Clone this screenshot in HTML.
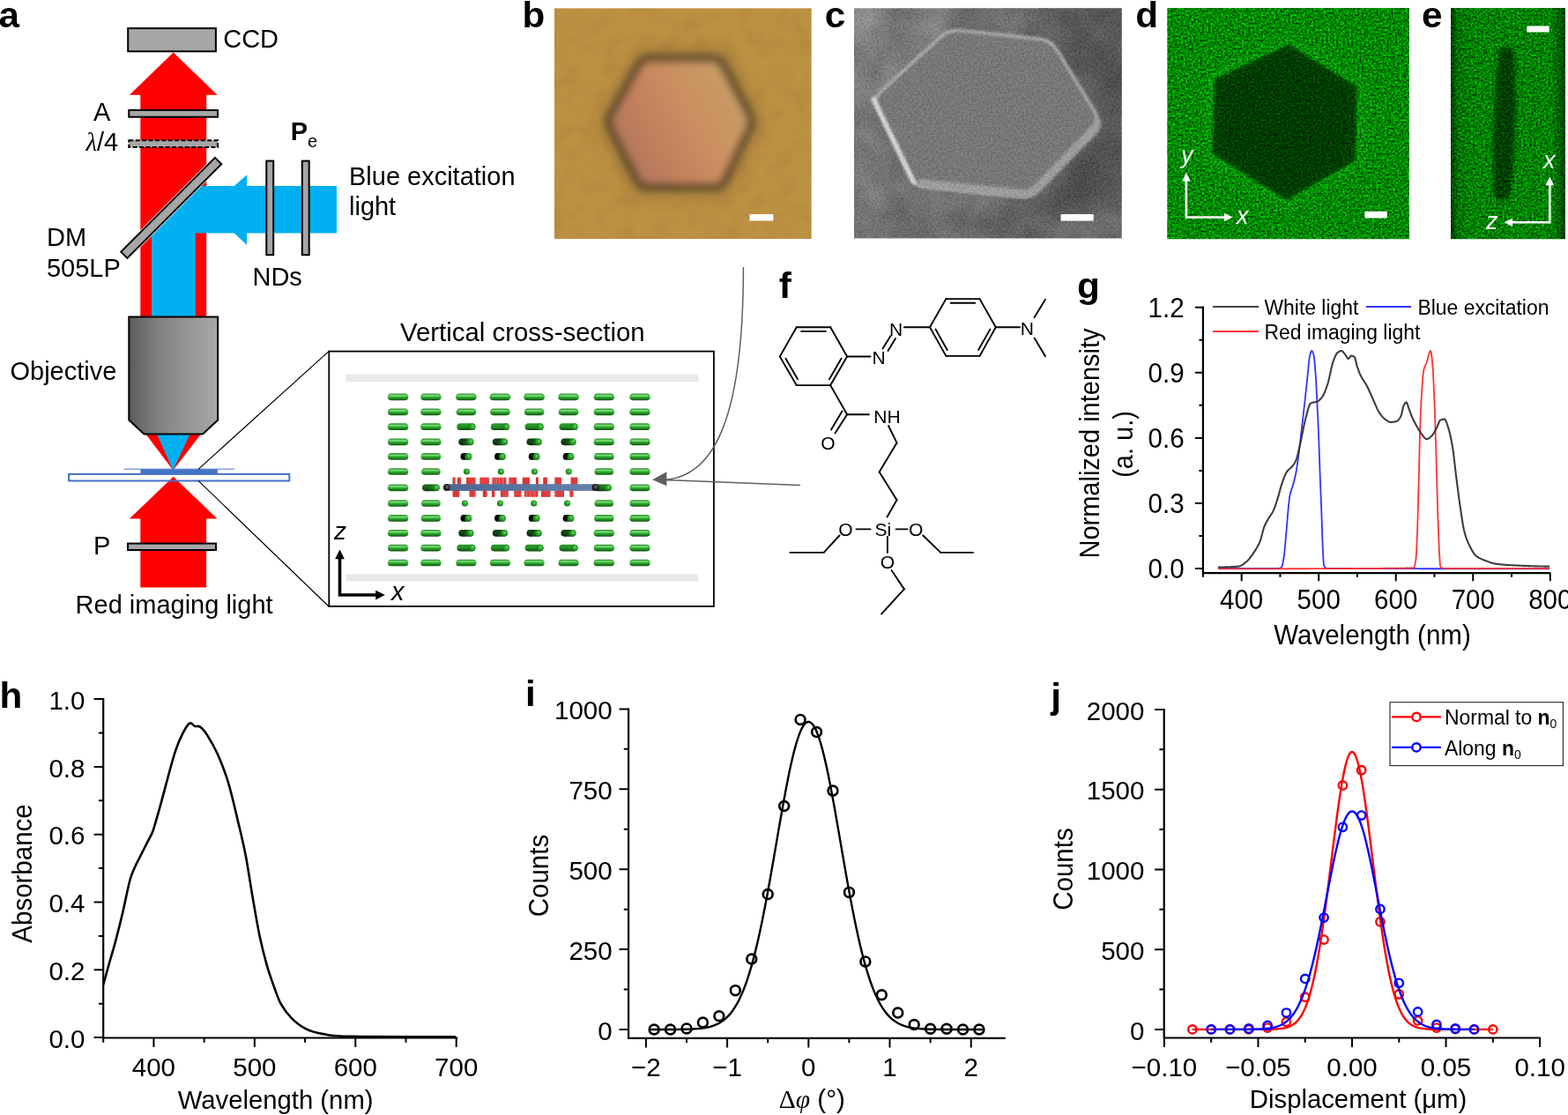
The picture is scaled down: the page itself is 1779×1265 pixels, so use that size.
<!DOCTYPE html>
<html><head><meta charset="utf-8"><title>Figure</title>
<style>html,body{margin:0;padding:0;background:#fff;overflow:hidden}svg{display:block}</style>
</head><body>
<svg width="1779" height="1265" viewBox="0 0 1779 1265">
<rect x="0" y="0" width="1779" height="1265" fill="#fff"/>
<defs>
<clipPath id="clipb"><rect x="628.8" y="9.2" width="292" height="261.9"/></clipPath>
<clipPath id="clipc"><rect x="969" y="9.2" width="303.8" height="261.4"/></clipPath>
<clipPath id="clipd"><rect x="1324.3" y="9" width="274.6" height="262.2"/></clipPath>
<clipPath id="clipe"><rect x="1646" y="9" width="129.9" height="262.2"/></clipPath>
<filter id="blur3" x="-20%" y="-20%" width="140%" height="140%"><feGaussianBlur stdDeviation="4.2"/></filter>
<filter id="blur5" x="-30%" y="-30%" width="160%" height="160%"><feGaussianBlur stdDeviation="7"/></filter>
<filter id="blur10" x="-50%" y="-50%" width="200%" height="200%"><feGaussianBlur stdDeviation="10"/></filter>
<filter id="blur15" x="-30%" y="-30%" width="160%" height="160%"><feGaussianBlur stdDeviation="1.4"/></filter>
<filter id="blur2" x="-30%" y="-30%" width="160%" height="160%"><feGaussianBlur stdDeviation="2"/></filter>
<filter id="blur1" x="-30%" y="-30%" width="160%" height="160%"><feGaussianBlur stdDeviation="1"/></filter>
<filter id="bnoise" color-interpolation-filters="sRGB" filterUnits="userSpaceOnUse" x="628" y="9" width="294" height="263">
<feTurbulence type="fractalNoise" baseFrequency="0.05" numOctaves="2" seed="5"/>
<feColorMatrix type="matrix" values="0 0 0 0 0  0 0 0 0 0  0 0 0 0 0  0.9 0 0 0 -0.38"/>
</filter>
<filter id="gnoise" color-interpolation-filters="sRGB" filterUnits="userSpaceOnUse" x="1324" y="9" width="452" height="263">
<feTurbulence type="fractalNoise" baseFrequency="0.42" numOctaves="2" seed="11"/>
<feGaussianBlur stdDeviation="0.6"/>
<feColorMatrix type="matrix" values="0 0 0 0 0  1.15 0 0 0 -0.045  0 0 0 0 0  0 0 0 0 1"/>
</filter>
<filter id="cgrain" color-interpolation-filters="sRGB" filterUnits="userSpaceOnUse" x="969" y="9" width="304" height="262">
<feTurbulence type="fractalNoise" baseFrequency="0.45" numOctaves="2" seed="9"/>
<feColorMatrix type="matrix" values="1.4 0 0 0 -0.2  1.4 0 0 0 -0.2  1.4 0 0 0 -0.2  0 0 0 0 0.16"/>
</filter>
<filter id="clow" color-interpolation-filters="sRGB" filterUnits="userSpaceOnUse" x="969" y="9" width="304" height="262">
<feTurbulence type="fractalNoise" baseFrequency="0.025" numOctaves="3" seed="2"/>
<feColorMatrix type="matrix" values="1 0 0 0 -0.1  1 0 0 0 -0.1  1 0 0 0 -0.1  0 0 0 0 0.22"/>
</filter>
<linearGradient id="bhex" x1="0" x2="1" y1="0.75" y2="0.25">
<stop offset="0" stop-color="#a8745a"/><stop offset="0.3" stop-color="#c27f5c"/><stop offset="0.6" stop-color="#cc8f60"/><stop offset="1" stop-color="#c3a068"/>
</linearGradient>
<radialGradient id="cbg" cx="0.9" cy="0.05" r="0.6">
<stop offset="0" stop-color="#505050"/><stop offset="1" stop-color="#505050" stop-opacity="0"/>
</radialGradient>
<linearGradient id="cbg2" x1="0" x2="1" y1="0.2" y2="0.8">
<stop offset="0" stop-color="#848484"/><stop offset="0.5" stop-color="#6c6c6c"/><stop offset="1" stop-color="#5e5e5e"/>
</linearGradient>
<linearGradient id="eedge" x1="0" x2="1" y1="0" y2="0">
<stop offset="0" stop-color="#000" stop-opacity="0.6"/><stop offset="0.06" stop-color="#000" stop-opacity="0.15"/><stop offset="0.2" stop-color="#000" stop-opacity="0.05"/><stop offset="0.88" stop-color="#000" stop-opacity="0.05"/><stop offset="0.95" stop-color="#000" stop-opacity="0.3"/><stop offset="1" stop-color="#000" stop-opacity="0.55"/>
</linearGradient>
</defs>
<g clip-path="url(#clipb)">
<rect x="628.8" y="9.2" width="292" height="261.9" fill="#bd9142"/>
<rect x="628.8" y="9.2" width="292" height="261.9" filter="url(#bnoise)" opacity="0.12"/>
<path d="M725.1,73.5 Q729.0,66.5 737.0,66.5 L808.0,66.5 Q816.0,66.5 819.8,73.6 L850.2,130.4 Q854.0,137.5 850.6,144.7 L821.8,204.8 Q818.4,212.0 810.4,212.0 L734.7,212.0 Q726.7,212.0 723.1,204.9 L692.5,144.6 Q688.9,137.5 692.8,130.5 Z" fill="none" stroke="#8a6a3a" stroke-width="26" filter="url(#blur5)" opacity="0.45"/>
<path d="M725.1,73.5 Q729.0,66.5 737.0,66.5 L808.0,66.5 Q816.0,66.5 819.8,73.6 L850.2,130.4 Q854.0,137.5 850.6,144.7 L821.8,204.8 Q818.4,212.0 810.4,212.0 L734.7,212.0 Q726.7,212.0 723.1,204.9 L692.5,144.6 Q688.9,137.5 692.8,130.5 Z" fill="url(#bhex)" stroke="#5e4a2c" stroke-width="8.5" filter="url(#blur3)"/>
</g>
<rect x="850.5" y="243" width="26.8" height="7.5" fill="#fff"/>
<g clip-path="url(#clipc)">
<rect x="969" y="9.2" width="303.8" height="261.4" fill="url(#cbg2)"/>
<rect x="969" y="9.2" width="303.8" height="261.4" fill="url(#cbg)" opacity="0.8"/>
<rect x="969" y="9.2" width="303.8" height="261.4" filter="url(#clow)"/>
<polygon points="1222,50 1262,135 1180,228 1150,236 1200,250 1275,215 1275,40" fill="#333" filter="url(#blur10)" opacity="0.55"/>
<path d="M1066.6,42.4 Q1077.0,33.0 1090.9,34.5 L1178.5,43.9 Q1192.4,45.4 1199.7,57.3 L1241.5,125.3 Q1248.8,137.2 1239.4,147.6 L1179.4,213.6 Q1170.0,224.0 1156.1,222.7 L1051.4,212.6 Q1037.5,211.3 1031.5,198.7 L996.0,124.6 Q990.0,112.0 1000.4,102.6 Z" fill="#767676" stroke="#bcbcbc" stroke-width="3" filter="url(#blur15)"/>
<path d="M1249,136 Q1250,146 1243,153 L1178,219 Q1171,226 1160,225 L1040,212 L1043,203 L1162,215 Q1168,215 1172,211 L1238,143 Q1242,139 1241,134 Z" fill="#a2a2a2" filter="url(#blur15)"/>
<path d="M991,112 L1037,207" stroke="#e8e8e8" stroke-width="5" fill="none" stroke-linecap="round" filter="url(#blur15)"/>
<rect x="969" y="9.2" width="303.8" height="261.4" filter="url(#cgrain)"/>
</g>
<rect x="1203.6" y="243" width="37.1" height="7.6" fill="#fff"/>
<g clip-path="url(#clipd)">
<rect x="1324.3" y="9" width="274.6" height="262.2" filter="url(#gnoise)"/>
<polygon points="1462.3,50.5 1539.5,98.2 1538,182.3 1459.5,227.2 1375.4,173.9 1378.2,89.8" fill="none" stroke="#5f5" stroke-width="16" opacity="0.12" filter="url(#blur5)"/>
<polygon points="1462.3,50.5 1539.5,98.2 1538,182.3 1459.5,227.2 1375.4,173.9 1378.2,89.8" fill="#000" opacity="0.56" filter="url(#blur15)"/>
</g>
<rect x="1548.4" y="239.8" width="25.3" height="7.6" fill="#fff"/>
<path d="M1345.9,247.5 L1345.9,203 M1344.6,246.5 L1391,246.5" stroke="#fff" stroke-width="2.6" fill="none"/>
<polygon points="1345.9,195.8 1341.1,205.5 1350.7,205.5" fill="#fff"/>
<polygon points="1398.6,246.5 1388.9,241.7 1388.9,251.3" fill="#fff"/>
<text x="1340" y="185" font-family="Liberation Sans, Arial, sans-serif" font-style="italic" font-size="27" fill="#fff">y</text>
<text x="1403" y="254" font-family="Liberation Sans, Arial, sans-serif" font-style="italic" font-size="27" fill="#fff">x</text>
<g clip-path="url(#clipe)">
<rect x="1646" y="9" width="129.9" height="262.2" filter="url(#gnoise)"/>
<rect x="1646" y="9" width="129.9" height="262.2" fill="url(#eedge)"/>
<path d="M1701,56 Q1710,50 1718,57 L1720,120 L1717,190 L1713,224 Q1703,230 1695,224 L1694,160 L1697,95 Z" fill="#000" opacity="0.5" filter="url(#blur2)"/>
</g>
<rect x="1732.2" y="29.5" width="25.5" height="7" fill="#fff"/>
<path d="M1758.3,253.5 L1758.3,208 M1759.6,252.2 L1714,252.2" stroke="#fff" stroke-width="2.6" fill="none"/>
<polygon points="1758.3,200.6 1753.5,210.3 1763.1,210.3" fill="#fff"/>
<polygon points="1706.4,252.2 1716.1,247.4 1716.1,257" fill="#fff"/>
<text x="1751" y="190.7" font-family="Liberation Sans, Arial, sans-serif" font-style="italic" font-size="27" fill="#fff">x</text>
<text x="1686" y="259.5" font-family="Liberation Sans, Arial, sans-serif" font-style="italic" font-size="27" fill="#fff">z</text>
<defs>
<linearGradient id="rodg" x1="0" x2="0" y1="0" y2="1">
<stop offset="0" stop-color="#2c8f2c"/><stop offset="0.3" stop-color="#5ccc5c"/><stop offset="0.55" stop-color="#2faa2f"/><stop offset="0.85" stop-color="#187318"/><stop offset="1" stop-color="#0c4a0c"/>
</linearGradient>
<linearGradient id="rodb" x1="0" x2="0" y1="0" y2="1">
<stop offset="0" stop-color="#2a9a2a"/><stop offset="0.5" stop-color="#25922a"/><stop offset="0.85" stop-color="#146014"/><stop offset="1" stop-color="#0a3a0a"/>
</linearGradient>
<linearGradient id="rodd" x1="0" x2="1" y1="0" y2="0.35">
<stop offset="0" stop-color="#000"/><stop offset="0.5" stop-color="#000" stop-opacity="0.85"/><stop offset="0.8" stop-color="#000" stop-opacity="0"/>
</linearGradient>
<radialGradient id="rodc" cx="0.6" cy="0.4" r="0.65">
<stop offset="0" stop-color="#6ad46a"/><stop offset="0.45" stop-color="#2ca52c"/><stop offset="1" stop-color="#127012"/>
</radialGradient>
<linearGradient id="bluerod" x1="0" x2="1" y1="0" y2="0">
<stop offset="0" stop-color="#4d6590"/><stop offset="0.5" stop-color="#5a74a0"/><stop offset="1" stop-color="#6682ac"/>
</linearGradient>
<radialGradient id="endc" cx="0.55" cy="0.4" r="0.6">
<stop offset="0" stop-color="#777"/><stop offset="0.5" stop-color="#2a2a2a"/><stop offset="1" stop-color="#111"/>
</radialGradient>
<linearGradient id="redtick" x1="0" x2="1" y1="0" y2="0">
<stop offset="0" stop-color="#c01c1c"/><stop offset="0.5" stop-color="#f24a4a"/><stop offset="1" stop-color="#c82424"/>
</linearGradient>
</defs>
<rect x="373.3" y="398.6" width="436.6" height="289.3" fill="#fff" stroke="#000" stroke-width="1.8"/>
<rect x="392.6" y="424.7" width="399.8" height="8.3" fill="#e8e8e8"/>
<rect x="392.6" y="651.4" width="399.8" height="8.3" fill="#e8e8e8"/>
<rect x="439.90" y="446.45" width="23.40" height="7.70" rx="3.85" fill="url(#rodg)"/><rect x="442.40" y="448.35" width="18.40" height="1.3" rx="0.65" fill="#8ee08e" opacity="0.7"/>
<rect x="439.90" y="463.45" width="23.40" height="7.70" rx="3.85" fill="url(#rodg)"/><rect x="442.40" y="465.35" width="18.40" height="1.3" rx="0.65" fill="#8ee08e" opacity="0.7"/>
<rect x="439.90" y="480.35" width="23.40" height="7.70" rx="3.85" fill="url(#rodg)"/><rect x="442.40" y="482.25" width="18.40" height="1.3" rx="0.65" fill="#8ee08e" opacity="0.7"/>
<rect x="439.90" y="497.45" width="23.40" height="7.70" rx="3.85" fill="url(#rodg)"/><rect x="442.40" y="499.35" width="18.40" height="1.3" rx="0.65" fill="#8ee08e" opacity="0.7"/>
<rect x="439.90" y="514.05" width="23.40" height="7.70" rx="3.85" fill="url(#rodg)"/><rect x="442.40" y="515.95" width="18.40" height="1.3" rx="0.65" fill="#8ee08e" opacity="0.7"/>
<rect x="439.90" y="531.15" width="23.40" height="7.70" rx="3.85" fill="url(#rodg)"/><rect x="442.40" y="533.05" width="18.40" height="1.3" rx="0.65" fill="#8ee08e" opacity="0.7"/>
<rect x="439.90" y="549.45" width="23.40" height="7.70" rx="3.85" fill="url(#rodg)"/><rect x="442.40" y="551.35" width="18.40" height="1.3" rx="0.65" fill="#8ee08e" opacity="0.7"/>
<rect x="439.90" y="567.15" width="23.40" height="7.70" rx="3.85" fill="url(#rodg)"/><rect x="442.40" y="569.05" width="18.40" height="1.3" rx="0.65" fill="#8ee08e" opacity="0.7"/>
<rect x="439.90" y="584.05" width="23.40" height="7.70" rx="3.85" fill="url(#rodg)"/><rect x="442.40" y="585.95" width="18.40" height="1.3" rx="0.65" fill="#8ee08e" opacity="0.7"/>
<rect x="439.90" y="600.95" width="23.40" height="7.70" rx="3.85" fill="url(#rodg)"/><rect x="442.40" y="602.85" width="18.40" height="1.3" rx="0.65" fill="#8ee08e" opacity="0.7"/>
<rect x="439.90" y="617.75" width="23.40" height="7.70" rx="3.85" fill="url(#rodg)"/><rect x="442.40" y="619.65" width="18.40" height="1.3" rx="0.65" fill="#8ee08e" opacity="0.7"/>
<rect x="439.90" y="634.65" width="23.40" height="7.70" rx="3.85" fill="url(#rodg)"/><rect x="442.40" y="636.55" width="18.40" height="1.3" rx="0.65" fill="#8ee08e" opacity="0.7"/>
<rect x="477.20" y="446.45" width="23.40" height="7.70" rx="3.85" fill="url(#rodg)"/><rect x="479.70" y="448.35" width="18.40" height="1.3" rx="0.65" fill="#8ee08e" opacity="0.7"/>
<rect x="477.20" y="463.45" width="23.40" height="7.70" rx="3.85" fill="url(#rodg)"/><rect x="479.70" y="465.35" width="18.40" height="1.3" rx="0.65" fill="#8ee08e" opacity="0.7"/>
<rect x="477.20" y="480.35" width="23.40" height="7.70" rx="3.85" fill="url(#rodg)"/><rect x="479.70" y="482.25" width="18.40" height="1.3" rx="0.65" fill="#8ee08e" opacity="0.7"/>
<rect x="477.20" y="497.45" width="23.40" height="7.70" rx="3.85" fill="url(#rodg)"/><rect x="479.70" y="499.35" width="18.40" height="1.3" rx="0.65" fill="#8ee08e" opacity="0.7"/>
<rect x="477.50" y="514.05" width="22.80" height="7.70" rx="3.85" fill="url(#rodg)"/><rect x="480.00" y="515.95" width="17.80" height="1.3" rx="0.65" fill="#8ee08e" opacity="0.7"/>
<rect x="478.00" y="531.15" width="21.80" height="7.70" rx="3.85" fill="url(#rodg)"/><rect x="480.50" y="533.05" width="16.80" height="1.3" rx="0.65" fill="#8ee08e" opacity="0.7"/>
<rect x="479.05" y="549.45" width="19.70" height="7.70" rx="3.85" fill="url(#rodb)"/><rect x="479.05" y="549.45" width="19.70" height="7.70" rx="3.85" fill="url(#rodd)" opacity="0.35"/><circle cx="494.90" cy="553.30" r="3.85" fill="url(#rodc)"/>
<rect x="478.00" y="567.15" width="21.80" height="7.70" rx="3.85" fill="url(#rodg)"/><rect x="480.50" y="569.05" width="16.80" height="1.3" rx="0.65" fill="#8ee08e" opacity="0.7"/>
<rect x="477.70" y="584.05" width="22.40" height="7.70" rx="3.85" fill="url(#rodg)"/><rect x="480.20" y="585.95" width="17.40" height="1.3" rx="0.65" fill="#8ee08e" opacity="0.7"/>
<rect x="477.20" y="600.95" width="23.40" height="7.70" rx="3.85" fill="url(#rodg)"/><rect x="479.70" y="602.85" width="18.40" height="1.3" rx="0.65" fill="#8ee08e" opacity="0.7"/>
<rect x="477.20" y="617.75" width="23.40" height="7.70" rx="3.85" fill="url(#rodg)"/><rect x="479.70" y="619.65" width="18.40" height="1.3" rx="0.65" fill="#8ee08e" opacity="0.7"/>
<rect x="477.20" y="634.65" width="23.40" height="7.70" rx="3.85" fill="url(#rodg)"/><rect x="479.70" y="636.55" width="18.40" height="1.3" rx="0.65" fill="#8ee08e" opacity="0.7"/>
<rect x="517.10" y="446.45" width="23.60" height="7.70" rx="3.85" fill="url(#rodg)"/><rect x="519.60" y="448.35" width="18.60" height="1.3" rx="0.65" fill="#8ee08e" opacity="0.7"/>
<rect x="517.60" y="463.45" width="22.60" height="7.70" rx="3.85" fill="url(#rodg)"/><rect x="520.10" y="465.35" width="17.60" height="1.3" rx="0.65" fill="#8ee08e" opacity="0.7"/>
<rect x="518.35" y="480.35" width="21.10" height="7.70" rx="3.85" fill="url(#rodb)"/><circle cx="535.60" cy="484.20" r="3.85" fill="url(#rodc)"/>
<rect x="520.35" y="497.45" width="17.10" height="7.70" rx="3.85" fill="url(#rodb)"/><rect x="520.35" y="497.45" width="17.10" height="7.70" rx="3.85" fill="url(#rodd)" opacity="0.60"/><circle cx="533.60" cy="501.30" r="3.85" fill="url(#rodc)"/>
<rect x="522.60" y="514.05" width="12.60" height="7.70" rx="3.85" fill="url(#rodb)"/><rect x="522.60" y="514.05" width="12.60" height="7.70" rx="3.85" fill="url(#rodd)" opacity="1.00"/><circle cx="531.35" cy="517.90" r="3.85" fill="url(#rodc)"/>
<circle cx="529.50" cy="535.00" r="3.6" fill="url(#rodc)"/>
<circle cx="527.50" cy="571.00" r="3.6" fill="url(#rodc)"/>
<rect x="522.60" y="584.05" width="12.60" height="7.70" rx="3.85" fill="url(#rodb)"/><rect x="522.60" y="584.05" width="12.60" height="7.70" rx="3.85" fill="url(#rodd)" opacity="1.00"/><circle cx="531.35" cy="587.90" r="3.85" fill="url(#rodc)"/>
<rect x="520.35" y="600.95" width="17.10" height="7.70" rx="3.85" fill="url(#rodb)"/><rect x="520.35" y="600.95" width="17.10" height="7.70" rx="3.85" fill="url(#rodd)" opacity="0.60"/><circle cx="533.60" cy="604.80" r="3.85" fill="url(#rodc)"/>
<rect x="518.35" y="617.75" width="21.10" height="7.70" rx="3.85" fill="url(#rodb)"/><circle cx="535.60" cy="621.60" r="3.85" fill="url(#rodc)"/>
<rect x="517.30" y="634.65" width="23.20" height="7.70" rx="3.85" fill="url(#rodg)"/><rect x="519.80" y="636.55" width="18.20" height="1.3" rx="0.65" fill="#8ee08e" opacity="0.7"/>
<rect x="555.60" y="446.45" width="23.60" height="7.70" rx="3.85" fill="url(#rodg)"/><rect x="558.10" y="448.35" width="18.60" height="1.3" rx="0.65" fill="#8ee08e" opacity="0.7"/>
<rect x="556.10" y="463.45" width="22.60" height="7.70" rx="3.85" fill="url(#rodg)"/><rect x="558.60" y="465.35" width="17.60" height="1.3" rx="0.65" fill="#8ee08e" opacity="0.7"/>
<rect x="556.85" y="480.35" width="21.10" height="7.70" rx="3.85" fill="url(#rodb)"/><circle cx="574.10" cy="484.20" r="3.85" fill="url(#rodc)"/>
<rect x="558.85" y="497.45" width="17.10" height="7.70" rx="3.85" fill="url(#rodb)"/><rect x="558.85" y="497.45" width="17.10" height="7.70" rx="3.85" fill="url(#rodd)" opacity="0.60"/><circle cx="572.10" cy="501.30" r="3.85" fill="url(#rodc)"/>
<rect x="561.10" y="514.05" width="12.60" height="7.70" rx="3.85" fill="url(#rodb)"/><rect x="561.10" y="514.05" width="12.60" height="7.70" rx="3.85" fill="url(#rodd)" opacity="1.00"/><circle cx="569.85" cy="517.90" r="3.85" fill="url(#rodc)"/>
<circle cx="568.30" cy="535.00" r="3.6" fill="url(#rodc)"/>
<circle cx="567.50" cy="571.00" r="3.6" fill="url(#rodc)"/>
<rect x="561.10" y="584.05" width="12.60" height="7.70" rx="3.85" fill="url(#rodb)"/><rect x="561.10" y="584.05" width="12.60" height="7.70" rx="3.85" fill="url(#rodd)" opacity="1.00"/><circle cx="569.85" cy="587.90" r="3.85" fill="url(#rodc)"/>
<rect x="558.85" y="600.95" width="17.10" height="7.70" rx="3.85" fill="url(#rodb)"/><rect x="558.85" y="600.95" width="17.10" height="7.70" rx="3.85" fill="url(#rodd)" opacity="0.60"/><circle cx="572.10" cy="604.80" r="3.85" fill="url(#rodc)"/>
<rect x="556.85" y="617.75" width="21.10" height="7.70" rx="3.85" fill="url(#rodb)"/><circle cx="574.10" cy="621.60" r="3.85" fill="url(#rodc)"/>
<rect x="555.80" y="634.65" width="23.20" height="7.70" rx="3.85" fill="url(#rodg)"/><rect x="558.30" y="636.55" width="18.20" height="1.3" rx="0.65" fill="#8ee08e" opacity="0.7"/>
<rect x="594.30" y="446.45" width="23.60" height="7.70" rx="3.85" fill="url(#rodg)"/><rect x="596.80" y="448.35" width="18.60" height="1.3" rx="0.65" fill="#8ee08e" opacity="0.7"/>
<rect x="594.80" y="463.45" width="22.60" height="7.70" rx="3.85" fill="url(#rodg)"/><rect x="597.30" y="465.35" width="17.60" height="1.3" rx="0.65" fill="#8ee08e" opacity="0.7"/>
<rect x="595.55" y="480.35" width="21.10" height="7.70" rx="3.85" fill="url(#rodb)"/><circle cx="612.80" cy="484.20" r="3.85" fill="url(#rodc)"/>
<rect x="597.55" y="497.45" width="17.10" height="7.70" rx="3.85" fill="url(#rodb)"/><rect x="597.55" y="497.45" width="17.10" height="7.70" rx="3.85" fill="url(#rodd)" opacity="0.60"/><circle cx="610.80" cy="501.30" r="3.85" fill="url(#rodc)"/>
<rect x="599.80" y="514.05" width="12.60" height="7.70" rx="3.85" fill="url(#rodb)"/><rect x="599.80" y="514.05" width="12.60" height="7.70" rx="3.85" fill="url(#rodd)" opacity="1.00"/><circle cx="608.55" cy="517.90" r="3.85" fill="url(#rodc)"/>
<circle cx="606.50" cy="535.00" r="3.6" fill="url(#rodc)"/>
<circle cx="605.80" cy="571.00" r="3.6" fill="url(#rodc)"/>
<rect x="599.80" y="584.05" width="12.60" height="7.70" rx="3.85" fill="url(#rodb)"/><rect x="599.80" y="584.05" width="12.60" height="7.70" rx="3.85" fill="url(#rodd)" opacity="1.00"/><circle cx="608.55" cy="587.90" r="3.85" fill="url(#rodc)"/>
<rect x="597.55" y="600.95" width="17.10" height="7.70" rx="3.85" fill="url(#rodb)"/><rect x="597.55" y="600.95" width="17.10" height="7.70" rx="3.85" fill="url(#rodd)" opacity="0.60"/><circle cx="610.80" cy="604.80" r="3.85" fill="url(#rodc)"/>
<rect x="595.55" y="617.75" width="21.10" height="7.70" rx="3.85" fill="url(#rodb)"/><circle cx="612.80" cy="621.60" r="3.85" fill="url(#rodc)"/>
<rect x="594.50" y="634.65" width="23.20" height="7.70" rx="3.85" fill="url(#rodg)"/><rect x="597.00" y="636.55" width="18.20" height="1.3" rx="0.65" fill="#8ee08e" opacity="0.7"/>
<rect x="633.20" y="446.45" width="23.60" height="7.70" rx="3.85" fill="url(#rodg)"/><rect x="635.70" y="448.35" width="18.60" height="1.3" rx="0.65" fill="#8ee08e" opacity="0.7"/>
<rect x="633.70" y="463.45" width="22.60" height="7.70" rx="3.85" fill="url(#rodg)"/><rect x="636.20" y="465.35" width="17.60" height="1.3" rx="0.65" fill="#8ee08e" opacity="0.7"/>
<rect x="634.45" y="480.35" width="21.10" height="7.70" rx="3.85" fill="url(#rodb)"/><circle cx="651.70" cy="484.20" r="3.85" fill="url(#rodc)"/>
<rect x="636.45" y="497.45" width="17.10" height="7.70" rx="3.85" fill="url(#rodb)"/><rect x="636.45" y="497.45" width="17.10" height="7.70" rx="3.85" fill="url(#rodd)" opacity="0.60"/><circle cx="649.70" cy="501.30" r="3.85" fill="url(#rodc)"/>
<rect x="638.70" y="514.05" width="12.60" height="7.70" rx="3.85" fill="url(#rodb)"/><rect x="638.70" y="514.05" width="12.60" height="7.70" rx="3.85" fill="url(#rodd)" opacity="1.00"/><circle cx="647.45" cy="517.90" r="3.85" fill="url(#rodc)"/>
<circle cx="645.30" cy="535.00" r="3.6" fill="url(#rodc)"/>
<circle cx="643.60" cy="571.00" r="3.6" fill="url(#rodc)"/>
<rect x="638.70" y="584.05" width="12.60" height="7.70" rx="3.85" fill="url(#rodb)"/><rect x="638.70" y="584.05" width="12.60" height="7.70" rx="3.85" fill="url(#rodd)" opacity="1.00"/><circle cx="647.45" cy="587.90" r="3.85" fill="url(#rodc)"/>
<rect x="636.45" y="600.95" width="17.10" height="7.70" rx="3.85" fill="url(#rodb)"/><rect x="636.45" y="600.95" width="17.10" height="7.70" rx="3.85" fill="url(#rodd)" opacity="0.60"/><circle cx="649.70" cy="604.80" r="3.85" fill="url(#rodc)"/>
<rect x="634.45" y="617.75" width="21.10" height="7.70" rx="3.85" fill="url(#rodb)"/><circle cx="651.70" cy="621.60" r="3.85" fill="url(#rodc)"/>
<rect x="633.40" y="634.65" width="23.20" height="7.70" rx="3.85" fill="url(#rodg)"/><rect x="635.90" y="636.55" width="18.20" height="1.3" rx="0.65" fill="#8ee08e" opacity="0.7"/>
<rect x="673.60" y="446.45" width="23.40" height="7.70" rx="3.85" fill="url(#rodg)"/><rect x="676.10" y="448.35" width="18.40" height="1.3" rx="0.65" fill="#8ee08e" opacity="0.7"/>
<rect x="673.60" y="463.45" width="23.40" height="7.70" rx="3.85" fill="url(#rodg)"/><rect x="676.10" y="465.35" width="18.40" height="1.3" rx="0.65" fill="#8ee08e" opacity="0.7"/>
<rect x="673.60" y="480.35" width="23.40" height="7.70" rx="3.85" fill="url(#rodg)"/><rect x="676.10" y="482.25" width="18.40" height="1.3" rx="0.65" fill="#8ee08e" opacity="0.7"/>
<rect x="673.60" y="497.45" width="23.40" height="7.70" rx="3.85" fill="url(#rodg)"/><rect x="676.10" y="499.35" width="18.40" height="1.3" rx="0.65" fill="#8ee08e" opacity="0.7"/>
<rect x="673.90" y="514.05" width="22.80" height="7.70" rx="3.85" fill="url(#rodg)"/><rect x="676.40" y="515.95" width="17.80" height="1.3" rx="0.65" fill="#8ee08e" opacity="0.7"/>
<rect x="674.40" y="531.15" width="21.80" height="7.70" rx="3.85" fill="url(#rodg)"/><rect x="676.90" y="533.05" width="16.80" height="1.3" rx="0.65" fill="#8ee08e" opacity="0.7"/>
<rect x="674.25" y="549.45" width="19.50" height="7.70" rx="3.85" fill="url(#rodb)"/><rect x="674.25" y="549.45" width="19.50" height="7.70" rx="3.85" fill="url(#rodd)" opacity="0.30"/><circle cx="689.90" cy="553.30" r="3.85" fill="url(#rodc)"/>
<rect x="674.40" y="567.15" width="21.80" height="7.70" rx="3.85" fill="url(#rodg)"/><rect x="676.90" y="569.05" width="16.80" height="1.3" rx="0.65" fill="#8ee08e" opacity="0.7"/>
<rect x="674.10" y="584.05" width="22.40" height="7.70" rx="3.85" fill="url(#rodg)"/><rect x="676.60" y="585.95" width="17.40" height="1.3" rx="0.65" fill="#8ee08e" opacity="0.7"/>
<rect x="673.60" y="600.95" width="23.40" height="7.70" rx="3.85" fill="url(#rodg)"/><rect x="676.10" y="602.85" width="18.40" height="1.3" rx="0.65" fill="#8ee08e" opacity="0.7"/>
<rect x="673.60" y="617.75" width="23.40" height="7.70" rx="3.85" fill="url(#rodg)"/><rect x="676.10" y="619.65" width="18.40" height="1.3" rx="0.65" fill="#8ee08e" opacity="0.7"/>
<rect x="673.60" y="634.65" width="23.40" height="7.70" rx="3.85" fill="url(#rodg)"/><rect x="676.10" y="636.55" width="18.40" height="1.3" rx="0.65" fill="#8ee08e" opacity="0.7"/>
<rect x="714.30" y="446.45" width="23.40" height="7.70" rx="3.85" fill="url(#rodg)"/><rect x="716.80" y="448.35" width="18.40" height="1.3" rx="0.65" fill="#8ee08e" opacity="0.7"/>
<rect x="714.30" y="463.45" width="23.40" height="7.70" rx="3.85" fill="url(#rodg)"/><rect x="716.80" y="465.35" width="18.40" height="1.3" rx="0.65" fill="#8ee08e" opacity="0.7"/>
<rect x="714.30" y="480.35" width="23.40" height="7.70" rx="3.85" fill="url(#rodg)"/><rect x="716.80" y="482.25" width="18.40" height="1.3" rx="0.65" fill="#8ee08e" opacity="0.7"/>
<rect x="714.30" y="497.45" width="23.40" height="7.70" rx="3.85" fill="url(#rodg)"/><rect x="716.80" y="499.35" width="18.40" height="1.3" rx="0.65" fill="#8ee08e" opacity="0.7"/>
<rect x="714.30" y="514.05" width="23.40" height="7.70" rx="3.85" fill="url(#rodg)"/><rect x="716.80" y="515.95" width="18.40" height="1.3" rx="0.65" fill="#8ee08e" opacity="0.7"/>
<rect x="714.30" y="531.15" width="23.40" height="7.70" rx="3.85" fill="url(#rodg)"/><rect x="716.80" y="533.05" width="18.40" height="1.3" rx="0.65" fill="#8ee08e" opacity="0.7"/>
<rect x="714.30" y="549.45" width="23.40" height="7.70" rx="3.85" fill="url(#rodg)"/><rect x="716.80" y="551.35" width="18.40" height="1.3" rx="0.65" fill="#8ee08e" opacity="0.7"/>
<rect x="714.30" y="567.15" width="23.40" height="7.70" rx="3.85" fill="url(#rodg)"/><rect x="716.80" y="569.05" width="18.40" height="1.3" rx="0.65" fill="#8ee08e" opacity="0.7"/>
<rect x="714.30" y="584.05" width="23.40" height="7.70" rx="3.85" fill="url(#rodg)"/><rect x="716.80" y="585.95" width="18.40" height="1.3" rx="0.65" fill="#8ee08e" opacity="0.7"/>
<rect x="714.30" y="600.95" width="23.40" height="7.70" rx="3.85" fill="url(#rodg)"/><rect x="716.80" y="602.85" width="18.40" height="1.3" rx="0.65" fill="#8ee08e" opacity="0.7"/>
<rect x="714.30" y="617.75" width="23.40" height="7.70" rx="3.85" fill="url(#rodg)"/><rect x="716.80" y="619.65" width="18.40" height="1.3" rx="0.65" fill="#8ee08e" opacity="0.7"/>
<rect x="714.30" y="634.65" width="23.40" height="7.70" rx="3.85" fill="url(#rodg)"/><rect x="716.80" y="636.55" width="18.40" height="1.3" rx="0.65" fill="#8ee08e" opacity="0.7"/>
<rect x="513.6" y="541.5" width="2.4" height="8.5" rx="1" fill="url(#redtick)"/>
<rect x="514.2" y="541.5" width="2.4" height="8.5" rx="1" fill="url(#redtick)"/>
<rect x="518.9" y="541.5" width="2.4" height="8.5" rx="1" fill="url(#redtick)"/>
<rect x="520.6" y="541.5" width="2.4" height="8.5" rx="1" fill="url(#redtick)"/>
<rect x="529.0" y="541.5" width="2.4" height="8.5" rx="1" fill="url(#redtick)"/>
<rect x="531.0" y="541.5" width="2.4" height="8.5" rx="1" fill="url(#redtick)"/>
<rect x="533.1" y="541.5" width="2.4" height="8.5" rx="1" fill="url(#redtick)"/>
<rect x="535.1" y="541.5" width="2.4" height="8.5" rx="1" fill="url(#redtick)"/>
<rect x="537.2" y="541.5" width="2.4" height="8.5" rx="1" fill="url(#redtick)"/>
<rect x="544.3" y="541.5" width="2.4" height="8.5" rx="1" fill="url(#redtick)"/>
<rect x="546.3" y="541.5" width="2.4" height="8.5" rx="1" fill="url(#redtick)"/>
<rect x="548.4" y="541.5" width="2.4" height="8.5" rx="1" fill="url(#redtick)"/>
<rect x="550.4" y="541.5" width="2.4" height="8.5" rx="1" fill="url(#redtick)"/>
<rect x="552.5" y="541.5" width="2.4" height="8.5" rx="1" fill="url(#redtick)"/>
<rect x="558.5" y="541.5" width="2.4" height="8.5" rx="1" fill="url(#redtick)"/>
<rect x="561.2" y="541.5" width="2.4" height="8.5" rx="1" fill="url(#redtick)"/>
<rect x="563.9" y="541.5" width="2.4" height="8.5" rx="1" fill="url(#redtick)"/>
<rect x="566.6" y="541.5" width="2.4" height="8.5" rx="1" fill="url(#redtick)"/>
<rect x="569.3" y="541.5" width="2.4" height="8.5" rx="1" fill="url(#redtick)"/>
<rect x="572.0" y="541.5" width="2.4" height="8.5" rx="1" fill="url(#redtick)"/>
<rect x="577.4" y="541.5" width="2.4" height="8.5" rx="1" fill="url(#redtick)"/>
<rect x="579.5" y="541.5" width="2.4" height="8.5" rx="1" fill="url(#redtick)"/>
<rect x="581.7" y="541.5" width="2.4" height="8.5" rx="1" fill="url(#redtick)"/>
<rect x="583.8" y="541.5" width="2.4" height="8.5" rx="1" fill="url(#redtick)"/>
<rect x="592.7" y="541.5" width="2.4" height="8.5" rx="1" fill="url(#redtick)"/>
<rect x="594.7" y="541.5" width="2.4" height="8.5" rx="1" fill="url(#redtick)"/>
<rect x="596.6" y="541.5" width="2.4" height="8.5" rx="1" fill="url(#redtick)"/>
<rect x="598.6" y="541.5" width="2.4" height="8.5" rx="1" fill="url(#redtick)"/>
<rect x="608.0" y="541.5" width="2.4" height="8.5" rx="1" fill="url(#redtick)"/>
<rect x="608.6" y="541.5" width="2.4" height="8.5" rx="1" fill="url(#redtick)"/>
<rect x="616.3" y="541.5" width="2.4" height="8.5" rx="1" fill="url(#redtick)"/>
<rect x="617.4" y="541.5" width="2.4" height="8.5" rx="1" fill="url(#redtick)"/>
<rect x="618.6" y="541.5" width="2.4" height="8.5" rx="1" fill="url(#redtick)"/>
<rect x="629.3" y="541.5" width="2.4" height="8.5" rx="1" fill="url(#redtick)"/>
<rect x="631.1" y="541.5" width="2.4" height="8.5" rx="1" fill="url(#redtick)"/>
<rect x="632.8" y="541.5" width="2.4" height="8.5" rx="1" fill="url(#redtick)"/>
<rect x="634.6" y="541.5" width="2.4" height="8.5" rx="1" fill="url(#redtick)"/>
<rect x="647.6" y="541.5" width="2.4" height="8.5" rx="1" fill="url(#redtick)"/>
<rect x="649.4" y="541.5" width="2.4" height="8.5" rx="1" fill="url(#redtick)"/>
<rect x="651.1" y="541.5" width="2.4" height="8.5" rx="1" fill="url(#redtick)"/>
<rect x="652.9" y="541.5" width="2.4" height="8.5" rx="1" fill="url(#redtick)"/>
<rect x="513.6" y="556.0" width="2.4" height="8.0" rx="1" fill="url(#redtick)"/>
<rect x="515.4" y="556.0" width="2.4" height="8.0" rx="1" fill="url(#redtick)"/>
<rect x="517.1" y="556.0" width="2.4" height="8.0" rx="1" fill="url(#redtick)"/>
<rect x="518.9" y="556.0" width="2.4" height="8.0" rx="1" fill="url(#redtick)"/>
<rect x="532.5" y="556.0" width="2.4" height="8.0" rx="1" fill="url(#redtick)"/>
<rect x="534.9" y="556.0" width="2.4" height="8.0" rx="1" fill="url(#redtick)"/>
<rect x="537.2" y="556.0" width="2.4" height="8.0" rx="1" fill="url(#redtick)"/>
<rect x="547.8" y="556.0" width="2.4" height="8.0" rx="1" fill="url(#redtick)"/>
<rect x="549.0" y="556.0" width="2.4" height="8.0" rx="1" fill="url(#redtick)"/>
<rect x="550.2" y="556.0" width="2.4" height="8.0" rx="1" fill="url(#redtick)"/>
<rect x="557.9" y="556.0" width="2.4" height="8.0" rx="1" fill="url(#redtick)"/>
<rect x="559.0" y="556.0" width="2.4" height="8.0" rx="1" fill="url(#redtick)"/>
<rect x="567.9" y="556.0" width="2.4" height="8.0" rx="1" fill="url(#redtick)"/>
<rect x="570.1" y="556.0" width="2.4" height="8.0" rx="1" fill="url(#redtick)"/>
<rect x="572.2" y="556.0" width="2.4" height="8.0" rx="1" fill="url(#redtick)"/>
<rect x="574.4" y="556.0" width="2.4" height="8.0" rx="1" fill="url(#redtick)"/>
<rect x="583.3" y="556.0" width="2.4" height="8.0" rx="1" fill="url(#redtick)"/>
<rect x="585.2" y="556.0" width="2.4" height="8.0" rx="1" fill="url(#redtick)"/>
<rect x="587.2" y="556.0" width="2.4" height="8.0" rx="1" fill="url(#redtick)"/>
<rect x="589.1" y="556.0" width="2.4" height="8.0" rx="1" fill="url(#redtick)"/>
<rect x="595.0" y="556.0" width="2.4" height="8.0" rx="1" fill="url(#redtick)"/>
<rect x="597.6" y="556.0" width="2.4" height="8.0" rx="1" fill="url(#redtick)"/>
<rect x="600.2" y="556.0" width="2.4" height="8.0" rx="1" fill="url(#redtick)"/>
<rect x="602.8" y="556.0" width="2.4" height="8.0" rx="1" fill="url(#redtick)"/>
<rect x="605.4" y="556.0" width="2.4" height="8.0" rx="1" fill="url(#redtick)"/>
<rect x="608.0" y="556.0" width="2.4" height="8.0" rx="1" fill="url(#redtick)"/>
<rect x="614.0" y="556.0" width="2.4" height="8.0" rx="1" fill="url(#redtick)"/>
<rect x="616.0" y="556.0" width="2.4" height="8.0" rx="1" fill="url(#redtick)"/>
<rect x="618.1" y="556.0" width="2.4" height="8.0" rx="1" fill="url(#redtick)"/>
<rect x="620.1" y="556.0" width="2.4" height="8.0" rx="1" fill="url(#redtick)"/>
<rect x="622.2" y="556.0" width="2.4" height="8.0" rx="1" fill="url(#redtick)"/>
<rect x="629.3" y="556.0" width="2.4" height="8.0" rx="1" fill="url(#redtick)"/>
<rect x="631.4" y="556.0" width="2.4" height="8.0" rx="1" fill="url(#redtick)"/>
<rect x="633.4" y="556.0" width="2.4" height="8.0" rx="1" fill="url(#redtick)"/>
<rect x="635.5" y="556.0" width="2.4" height="8.0" rx="1" fill="url(#redtick)"/>
<rect x="637.6" y="556.0" width="2.4" height="8.0" rx="1" fill="url(#redtick)"/>
<rect x="646.4" y="556.0" width="2.4" height="8.0" rx="1" fill="url(#redtick)"/>
<rect x="648.1" y="556.0" width="2.4" height="8.0" rx="1" fill="url(#redtick)"/>
<rect x="505" y="549.2" width="172" height="7.7" fill="url(#bluerod)"/>
<circle cx="506.8" cy="553" r="3.9" fill="url(#endc)"/>
<circle cx="675.6" cy="553" r="4.1" fill="url(#endc)"/>
<path d="M385.5,676.7 L385.5,632 M383.7,675 L427,675" stroke="#000" stroke-width="3.6" fill="none"/>
<polygon points="385.5,623.6 380.1,634.2 390.9,634.2" fill="#000"/>
<polygon points="436.8,675 426.2,669.8 426.2,680.4" fill="#000"/>
<text x="379" y="612.4" font-family="Liberation Sans, Arial, sans-serif" font-style="italic" font-size="28">z</text>
<text x="444" y="680.9" font-family="Liberation Sans, Arial, sans-serif" font-style="italic" font-size="29">x</text>
<text x="454" y="387.3" font-family="Liberation Sans, Arial, sans-serif" font-size="29.4">Vertical cross-section</text>
<path d="M843.4,302.9 C843.5,470 812,540 755,544.2" stroke="#5f5f5f" stroke-width="1.5" fill="none"/>
<line x1="908" y1="550.6" x2="752" y2="544.4" stroke="#5f5f5f" stroke-width="1.5"/>
<polygon points="740.2,544.2 756.4,535.3 756.4,551.3" fill="#5f5f5f"/>
<defs>
<linearGradient id="objg" x1="0" x2="1" y1="0" y2="0">
<stop offset="0" stop-color="#5c5c5c"/><stop offset="0.35" stop-color="#838383"/><stop offset="1" stop-color="#a8a8a8"/>
</linearGradient>
</defs>
<polygon fill="#ff0000" points="159.3,362 159.3,107.7 146.9,107.7 196.7,59.6 246.6,107.7 234.2,107.7 234.2,362"/>
<polygon fill="#00b0f0" points="219,211.1 265.7,211.1 280.2,198.3 280.2,211.1 382,211.1 382,264.4 280.2,264.4 280.2,277.9 265.7,264.4 221.8,264.4 221.8,362 171.9,362 171.9,258.2"/>
<polygon fill="#ff0000" points="165.5,492.6 228,492.6 196.4,533.5"/>
<polygon fill="#00b0f0" points="178,492.6 215.5,492.6 196.4,533.5"/>
<g transform="translate(194.2,235.95) rotate(-45)"><rect x="-75.5" y="-5.1" width="151" height="10.2" fill="#a6a6a6" stroke="#fff" stroke-width="3.4"/><rect x="-75.5" y="-5.1" width="151" height="10.2" fill="#a6a6a6" stroke="#000" stroke-width="2"/></g>
<rect x="145.2" y="32.1" width="99.7" height="26.2" fill="#a6a6a6" stroke="#000" stroke-width="2"/>
<rect x="146.3" y="125" width="100.7" height="7.7" fill="#a6a6a6" stroke="#000" stroke-width="2"/>
<rect x="146.3" y="159.2" width="100.7" height="7.7" fill="#a6a6a6" stroke="#000" stroke-width="2" stroke-dasharray="5,2.4"/>
<rect x="302.3" y="182.6" width="7.9" height="106.6" fill="#a6a6a6" stroke="#000" stroke-width="2"/>
<rect x="342.8" y="182.6" width="7.9" height="106.6" fill="#a6a6a6" stroke="#000" stroke-width="2"/>
<path d="M146.3,359.4 L247.2,359.4 L247.2,476.6 L230,492.6 L163.5,492.6 L146.3,476.6 Z" fill="url(#objg)" stroke="#000" stroke-width="2"/>
<line x1="140.5" y1="532.2" x2="265.6" y2="532.2" stroke="#4472c4" stroke-width="1"/>
<rect x="159.5" y="532.4" width="87.3" height="5" fill="#4472c4"/>
<rect x="78.1" y="537.9" width="250.2" height="7.6" fill="#fff"/>
<polygon fill="#ff0000" points="159.3,666.6 159.3,588.4 146.9,588.4 196.7,540.7 246.5,588.4 234.1,588.4 234.1,666.6"/>
<rect x="78.1" y="537.9" width="250.2" height="7.6" fill="none" stroke="#4472c4" stroke-width="2"/>
<rect x="145" y="616.6" width="100" height="7.4" fill="#a6a6a6" stroke="#000" stroke-width="2"/>
<line x1="225" y1="532.4" x2="373" y2="398.6" stroke="#000" stroke-width="1.2"/>
<line x1="225" y1="545.4" x2="373" y2="688" stroke="#000" stroke-width="1.2"/>
<text transform="translate(253.2,53.5) scale(1,1.035)" font-family="Liberation Sans, Arial, sans-serif" font-size="29">CCD</text>
<text transform="translate(106,136.7) scale(1,1.035)" font-family="Liberation Sans, Arial, sans-serif" font-size="29">A</text>
<text transform="translate(97.5,171) scale(1,1.035)" font-family="Liberation Sans, Arial, sans-serif" font-size="29"><tspan font-family="Liberation Serif, serif" font-style="italic">λ</tspan>/4</text>
<text transform="translate(329.8,158.8) scale(1,1.035)" font-family="Liberation Sans, Arial, sans-serif" font-size="29" font-weight="bold">P</text>
<text transform="translate(349,167.4) scale(1,1.035)" font-family="Liberation Sans, Arial, sans-serif" font-size="20">e</text>
<text transform="translate(396,209.5) scale(1,1.035)" font-family="Liberation Sans, Arial, sans-serif" font-size="29">Blue excitation</text>
<text transform="translate(396,244.2) scale(1,1.035)" font-family="Liberation Sans, Arial, sans-serif" font-size="29">light</text>
<text transform="translate(53,278.6) scale(1,1.035)" font-family="Liberation Sans, Arial, sans-serif" font-size="29">DM</text>
<text transform="translate(53,313.7) scale(1,1.035)" font-family="Liberation Sans, Arial, sans-serif" font-size="29">505LP</text>
<text transform="translate(286.5,324.3) scale(1,1.035)" font-family="Liberation Sans, Arial, sans-serif" font-size="29">NDs</text>
<text transform="translate(11.5,431) scale(1,1.035)" font-family="Liberation Sans, Arial, sans-serif" font-size="29">Objective</text>
<text transform="translate(106,628.8) scale(1,1.035)" font-family="Liberation Sans, Arial, sans-serif" font-size="29">P</text>
<text transform="translate(85.6,695.8) scale(1,1.035)" font-family="Liberation Sans, Arial, sans-serif" font-size="29">Red imaging light</text>
<line x1="903.7" y1="371.3" x2="942.2" y2="371.3" stroke="#000" stroke-width="1.9" fill="none" stroke-linecap="round" stroke-linejoin="round"/>
<line x1="942.2" y1="371.3" x2="961.1" y2="404.5" stroke="#000" stroke-width="1.9" fill="none" stroke-linecap="round" stroke-linejoin="round"/>
<line x1="961.1" y1="404.5" x2="942.2" y2="437.1" stroke="#000" stroke-width="1.9" fill="none" stroke-linecap="round" stroke-linejoin="round"/>
<line x1="942.2" y1="437.1" x2="903.7" y2="437.1" stroke="#000" stroke-width="1.9" fill="none" stroke-linecap="round" stroke-linejoin="round"/>
<line x1="903.7" y1="437.1" x2="884.8" y2="404.5" stroke="#000" stroke-width="1.9" fill="none" stroke-linecap="round" stroke-linejoin="round"/>
<line x1="884.8" y1="404.5" x2="903.7" y2="371.3" stroke="#000" stroke-width="1.9" fill="none" stroke-linecap="round" stroke-linejoin="round"/>
<line x1="909.1" y1="375.9" x2="936.8" y2="375.9" stroke="#000" stroke-width="1.9" fill="none" stroke-linecap="round" stroke-linejoin="round"/>
<line x1="954.5" y1="406.8" x2="940.9" y2="430.2" stroke="#000" stroke-width="1.9" fill="none" stroke-linecap="round" stroke-linejoin="round"/>
<line x1="905.0" y1="430.2" x2="891.4" y2="406.8" stroke="#000" stroke-width="1.9" fill="none" stroke-linecap="round" stroke-linejoin="round"/>
<line x1="1073.3" y1="339.1" x2="1111.5" y2="339.1" stroke="#000" stroke-width="1.9" fill="none" stroke-linecap="round" stroke-linejoin="round"/>
<line x1="1111.5" y1="339.1" x2="1129.8" y2="371.3" stroke="#000" stroke-width="1.9" fill="none" stroke-linecap="round" stroke-linejoin="round"/>
<line x1="1129.8" y1="371.3" x2="1111.5" y2="403.9" stroke="#000" stroke-width="1.9" fill="none" stroke-linecap="round" stroke-linejoin="round"/>
<line x1="1111.5" y1="403.9" x2="1073.3" y2="403.9" stroke="#000" stroke-width="1.9" fill="none" stroke-linecap="round" stroke-linejoin="round"/>
<line x1="1073.3" y1="403.9" x2="1055.0" y2="371.3" stroke="#000" stroke-width="1.9" fill="none" stroke-linecap="round" stroke-linejoin="round"/>
<line x1="1055.0" y1="371.3" x2="1073.3" y2="339.1" stroke="#000" stroke-width="1.9" fill="none" stroke-linecap="round" stroke-linejoin="round"/>
<line x1="1078.6" y1="343.7" x2="1106.2" y2="343.7" stroke="#000" stroke-width="1.9" fill="none" stroke-linecap="round" stroke-linejoin="round"/>
<line x1="1123.3" y1="373.6" x2="1110.1" y2="397.0" stroke="#000" stroke-width="1.9" fill="none" stroke-linecap="round" stroke-linejoin="round"/>
<line x1="1074.7" y1="397.0" x2="1061.5" y2="373.6" stroke="#000" stroke-width="1.9" fill="none" stroke-linecap="round" stroke-linejoin="round"/>
<line x1="961.1" y1="404.5" x2="987.5" y2="404.5" stroke="#000" stroke-width="1.9" fill="none" stroke-linecap="round" stroke-linejoin="round"/>
<line x1="1001.5" y1="395.5" x2="1010.5" y2="381.0" stroke="#000" stroke-width="1.9" fill="none" stroke-linecap="round" stroke-linejoin="round"/>
<line x1="1007.5" y1="398.0" x2="1016.0" y2="384.0" stroke="#000" stroke-width="1.9" fill="none" stroke-linecap="round" stroke-linejoin="round"/>
<line x1="1026.0" y1="371.3" x2="1055.0" y2="371.3" stroke="#000" stroke-width="1.9" fill="none" stroke-linecap="round" stroke-linejoin="round"/>
<line x1="1129.8" y1="371.3" x2="1157.0" y2="371.3" stroke="#000" stroke-width="1.9" fill="none" stroke-linecap="round" stroke-linejoin="round"/>
<line x1="1173.6" y1="360.0" x2="1186.0" y2="339.8" stroke="#000" stroke-width="1.9" fill="none" stroke-linecap="round" stroke-linejoin="round"/>
<line x1="1173.6" y1="383.5" x2="1186.0" y2="404.2" stroke="#000" stroke-width="1.9" fill="none" stroke-linecap="round" stroke-linejoin="round"/>
<line x1="942.2" y1="437.1" x2="961.1" y2="470.3" stroke="#000" stroke-width="1.9" fill="none" stroke-linecap="round" stroke-linejoin="round"/>
<line x1="961.1" y1="470.3" x2="986.0" y2="470.3" stroke="#000" stroke-width="1.9" fill="none" stroke-linecap="round" stroke-linejoin="round"/>
<line x1="961.1" y1="470.3" x2="947.5" y2="491.5" stroke="#000" stroke-width="1.9" fill="none" stroke-linecap="round" stroke-linejoin="round"/>
<line x1="955.5" y1="466.5" x2="943.0" y2="487.5" stroke="#000" stroke-width="1.9" fill="none" stroke-linecap="round" stroke-linejoin="round"/>
<line x1="1008.0" y1="483.0" x2="1017.5" y2="502.4" stroke="#000" stroke-width="1.9" fill="none" stroke-linecap="round" stroke-linejoin="round"/>
<line x1="1017.5" y1="502.4" x2="997.6" y2="535.6" stroke="#000" stroke-width="1.9" fill="none" stroke-linecap="round" stroke-linejoin="round"/>
<line x1="997.6" y1="535.6" x2="1017.5" y2="567.2" stroke="#000" stroke-width="1.9" fill="none" stroke-linecap="round" stroke-linejoin="round"/>
<line x1="1017.5" y1="567.2" x2="1006.5" y2="586.5" stroke="#000" stroke-width="1.9" fill="none" stroke-linecap="round" stroke-linejoin="round"/>
<line x1="971.5" y1="600.4" x2="987.5" y2="600.4" stroke="#000" stroke-width="1.9" fill="none" stroke-linecap="round" stroke-linejoin="round"/>
<line x1="1016.5" y1="600.4" x2="1029.5" y2="600.4" stroke="#000" stroke-width="1.9" fill="none" stroke-linecap="round" stroke-linejoin="round"/>
<line x1="1006.9" y1="609.0" x2="1006.9" y2="627.0" stroke="#000" stroke-width="1.9" fill="none" stroke-linecap="round" stroke-linejoin="round"/>
<line x1="952.5" y1="607.5" x2="934.6" y2="626.9" stroke="#000" stroke-width="1.9" fill="none" stroke-linecap="round" stroke-linejoin="round"/>
<line x1="934.6" y1="626.9" x2="896.4" y2="626.9" stroke="#000" stroke-width="1.9" fill="none" stroke-linecap="round" stroke-linejoin="round"/>
<line x1="1047.2" y1="607.5" x2="1067.3" y2="626.9" stroke="#000" stroke-width="1.9" fill="none" stroke-linecap="round" stroke-linejoin="round"/>
<line x1="1067.3" y1="626.9" x2="1104.0" y2="626.9" stroke="#000" stroke-width="1.9" fill="none" stroke-linecap="round" stroke-linejoin="round"/>
<line x1="1011.5" y1="647.0" x2="1025.9" y2="668.4" stroke="#000" stroke-width="1.9" fill="none" stroke-linecap="round" stroke-linejoin="round"/>
<line x1="1025.9" y1="668.4" x2="1000.0" y2="696.6" stroke="#000" stroke-width="1.9" fill="none" stroke-linecap="round" stroke-linejoin="round"/>
<text x="997.2" y="413.3" font-family="Liberation Sans, Arial, sans-serif" font-size="21" text-anchor="middle">N</text>
<text x="1016.6" y="380.8" font-family="Liberation Sans, Arial, sans-serif" font-size="21" text-anchor="middle">N</text>
<text x="1165.3" y="380" font-family="Liberation Sans, Arial, sans-serif" font-size="21" text-anchor="middle">N</text>
<text x="1006.5" y="480.3" font-family="Liberation Sans, Arial, sans-serif" font-size="21" text-anchor="middle">NH</text>
<text x="939.5" y="509.5" font-family="Liberation Sans, Arial, sans-serif" font-size="21" text-anchor="middle">O</text>
<text x="959.5" y="608" font-family="Liberation Sans, Arial, sans-serif" font-size="21" text-anchor="middle">O</text>
<text x="1001.8" y="608" font-family="Liberation Sans, Arial, sans-serif" font-size="21" text-anchor="middle">Si</text>
<text x="1039.1" y="608" font-family="Liberation Sans, Arial, sans-serif" font-size="21" text-anchor="middle">O</text>
<text x="1006.9" y="644.5" font-family="Liberation Sans, Arial, sans-serif" font-size="21" text-anchor="middle">O</text>
<path d="M1364.90,348.70 L1364.90,650.20 L1758.20,650.20" stroke="#000" stroke-width="2.2" fill="none" stroke-linecap="square"/>
<path d="M1408.66,650.20 L1408.66,659.20 M1496.19,650.20 L1496.19,659.20 M1583.71,650.20 L1583.71,659.20 M1671.24,650.20 L1671.24,659.20 M1758.76,650.20 L1758.76,659.20 M1364.90,650.20 L1364.90,654.70 M1452.43,650.20 L1452.43,654.70 M1539.95,650.20 L1539.95,654.70 M1627.48,650.20 L1627.48,654.70 M1715.00,650.20 L1715.00,654.70 M1364.90,645.10 L1355.90,645.10 M1364.90,571.00 L1355.90,571.00 M1364.90,496.90 L1355.90,496.90 M1364.90,422.80 L1355.90,422.80 M1364.90,348.70 L1355.90,348.70 M1364.90,608.05 L1360.40,608.05 M1364.90,533.95 L1360.40,533.95 M1364.90,459.85 L1360.40,459.85 M1364.90,385.75 L1360.40,385.75" stroke="#000" stroke-width="2.0" fill="none"/>
<text transform="translate(1408.66,690.80) scale(1,1.07)" font-family="Liberation Sans, Arial, sans-serif" font-size="29.5" text-anchor="middle">400</text>
<text transform="translate(1496.19,690.80) scale(1,1.07)" font-family="Liberation Sans, Arial, sans-serif" font-size="29.5" text-anchor="middle">500</text>
<text transform="translate(1583.71,690.80) scale(1,1.07)" font-family="Liberation Sans, Arial, sans-serif" font-size="29.5" text-anchor="middle">600</text>
<text transform="translate(1671.24,690.80) scale(1,1.07)" font-family="Liberation Sans, Arial, sans-serif" font-size="29.5" text-anchor="middle">700</text>
<text transform="translate(1758.76,690.80) scale(1,1.07)" font-family="Liberation Sans, Arial, sans-serif" font-size="29.5" text-anchor="middle">800</text>
<text transform="translate(1343.60,656.40) scale(1,1.07)" font-family="Liberation Sans, Arial, sans-serif" font-size="29.5" text-anchor="end">0.0</text>
<text transform="translate(1343.60,582.30) scale(1,1.07)" font-family="Liberation Sans, Arial, sans-serif" font-size="29.5" text-anchor="end">0.3</text>
<text transform="translate(1343.60,508.20) scale(1,1.07)" font-family="Liberation Sans, Arial, sans-serif" font-size="29.5" text-anchor="end">0.6</text>
<text transform="translate(1343.60,434.10) scale(1,1.07)" font-family="Liberation Sans, Arial, sans-serif" font-size="29.5" text-anchor="end">0.9</text>
<text transform="translate(1343.60,360.00) scale(1,1.07)" font-family="Liberation Sans, Arial, sans-serif" font-size="29.5" text-anchor="end">1.2</text>
<path d="M1382.03,644.87 L1382.53,644.87 L1383.03,644.87 L1383.53,644.87 L1384.03,644.87 L1384.53,644.87 L1385.03,644.87 L1385.53,644.87 L1386.03,644.87 L1386.53,644.87 L1387.03,644.87 L1387.53,644.87 L1388.03,644.87 L1388.53,644.87 L1389.03,644.87 L1389.53,644.87 L1390.03,644.87 L1390.53,644.87 L1391.03,644.87 L1391.53,644.87 L1392.03,644.87 L1392.53,644.87 L1393.03,644.87 L1393.53,644.87 L1394.03,644.87 L1394.53,644.87 L1395.03,644.87 L1395.53,644.87 L1396.03,644.87 L1396.53,644.87 L1397.03,644.87 L1397.53,644.87 L1398.03,644.87 L1398.53,644.87 L1399.03,644.87 L1399.53,644.87 L1400.03,644.87 L1400.53,644.87 L1401.03,644.87 L1401.53,644.87 L1402.03,644.87 L1402.53,644.87 L1403.03,644.87 L1403.53,644.87 L1404.03,644.87 L1404.53,644.87 L1405.03,644.87 L1405.53,644.87 L1406.03,644.87 L1406.53,644.87 L1407.03,644.87 L1407.53,644.87 L1408.03,644.87 L1408.53,644.87 L1409.03,644.87 L1409.53,644.87 L1410.03,644.87 L1410.53,644.87 L1411.03,644.87 L1411.53,644.87 L1412.03,644.87 L1412.53,644.87 L1413.03,644.87 L1413.53,644.87 L1414.03,644.87 L1414.53,644.87 L1415.03,644.87 L1415.53,644.87 L1416.03,644.87 L1416.53,644.87 L1417.03,644.87 L1417.53,644.87 L1418.03,644.87 L1418.53,644.87 L1419.03,644.87 L1419.53,644.87 L1420.03,644.87 L1420.53,644.87 L1421.03,644.87 L1421.53,644.87 L1422.03,644.87 L1422.53,644.87 L1423.03,644.87 L1423.53,644.87 L1424.03,644.87 L1424.53,644.87 L1425.03,644.87 L1425.53,644.87 L1426.03,644.87 L1426.53,644.87 L1427.03,644.87 L1427.53,644.87 L1428.03,644.87 L1428.53,644.87 L1429.03,644.87 L1429.53,644.87 L1430.03,644.87 L1430.53,644.87 L1431.03,644.87 L1431.53,644.87 L1432.03,644.87 L1432.53,644.87 L1433.03,644.87 L1433.53,644.87 L1434.03,644.87 L1434.53,644.87 L1435.03,644.87 L1435.53,644.87 L1436.03,644.87 L1436.53,644.87 L1437.03,644.87 L1437.53,644.87 L1438.03,644.87 L1438.53,644.87 L1439.03,644.87 L1439.53,644.87 L1440.03,644.87 L1440.53,644.87 L1441.03,644.87 L1441.53,644.87 L1442.03,644.87 L1442.53,644.87 L1443.03,644.87 L1443.53,644.87 L1444.03,644.87 L1444.53,644.87 L1445.03,644.87 L1445.53,644.87 L1446.03,644.87 L1446.53,644.87 L1447.03,644.87 L1447.53,644.87 L1448.03,644.87 L1448.53,644.87 L1449.03,644.87 L1449.53,644.87 L1450.03,644.87 L1450.53,644.84 L1451.03,644.77 L1451.53,644.65 L1452.03,644.50 L1452.53,644.31 L1453.03,644.07 L1453.53,643.80 L1454.03,643.48 L1454.53,642.58 L1455.03,640.86 L1455.53,638.51 L1456.03,635.74 L1456.53,632.74 L1457.03,629.33 L1457.53,624.77 L1458.03,619.44 L1458.53,613.78 L1459.03,608.20 L1459.53,602.26 L1460.03,595.95 L1460.53,589.69 L1461.03,583.90 L1461.53,578.66 L1462.03,573.45 L1462.53,568.60 L1463.03,564.53 L1463.53,561.61 L1464.03,559.44 L1464.53,557.67 L1465.03,556.15 L1465.53,554.75 L1466.03,553.35 L1466.53,551.81 L1467.03,550.04 L1467.53,548.24 L1468.03,546.42 L1468.53,544.53 L1469.03,542.54 L1469.53,540.41 L1470.03,538.08 L1470.53,535.50 L1471.03,532.59 L1471.53,529.41 L1472.03,526.01 L1472.53,522.44 L1473.03,518.75 L1473.53,515.00 L1474.03,511.08 L1474.53,506.90 L1475.03,502.54 L1475.53,498.06 L1476.03,493.54 L1476.53,489.06 L1477.03,484.68 L1477.53,480.37 L1478.03,476.08 L1478.53,471.79 L1479.03,467.48 L1479.53,463.14 L1480.03,458.74 L1480.53,454.27 L1481.03,449.71 L1481.53,445.08 L1482.03,440.43 L1482.53,435.77 L1483.03,431.13 L1483.53,426.37 L1484.03,421.12 L1484.53,415.80 L1485.03,410.90 L1485.53,406.88 L1486.03,404.19 L1486.53,402.02 L1487.03,400.12 L1487.53,398.71 L1488.03,398.02 L1488.53,398.15 L1489.03,398.80 L1489.53,399.88 L1490.03,401.28 L1490.53,402.97 L1491.03,406.16 L1491.53,410.96 L1492.03,416.86 L1492.53,423.33 L1493.03,430.63 L1493.53,439.83 L1494.03,450.03 L1494.53,460.24 L1495.03,470.33 L1495.53,480.92 L1496.03,492.51 L1496.53,506.06 L1497.03,520.98 L1497.53,535.48 L1498.03,548.36 L1498.53,560.43 L1499.03,572.66 L1499.53,586.14 L1500.03,602.28 L1500.53,616.23 L1501.03,627.25 L1501.53,636.74 L1502.03,641.77 L1502.53,642.59 L1503.03,643.22 L1503.53,643.74 L1504.03,644.15 L1504.53,644.46 L1505.03,644.68 L1505.53,644.81 L1506.03,644.87 L1506.53,644.87 L1507.03,644.87 L1507.53,644.88 L1508.03,644.88 L1508.53,644.88 L1509.03,644.88 L1509.53,644.89 L1510.03,644.89 L1510.53,644.89 L1511.03,644.89 L1511.53,644.90 L1512.03,644.90 L1512.53,644.90 L1513.03,644.90 L1513.53,644.91 L1514.03,644.91 L1514.53,644.91 L1515.03,644.91 L1515.53,644.92 L1516.03,644.92 L1516.53,644.92 L1517.03,644.92 L1517.53,644.93 L1518.03,644.93 L1518.53,644.93 L1519.03,644.93 L1519.53,644.93 L1520.03,644.94 L1520.53,644.94 L1521.03,644.94 L1521.53,644.94 L1522.03,644.95 L1522.53,644.95 L1523.03,644.95 L1523.53,644.95 L1524.03,644.96 L1524.53,644.96 L1525.03,644.96 L1525.53,644.96 L1526.03,644.96 L1526.53,644.97 L1527.03,644.97 L1527.53,644.97 L1528.03,644.97 L1528.53,644.98 L1529.03,644.98 L1529.53,644.98 L1530.03,644.98 L1530.53,644.98 L1531.03,644.99 L1531.53,644.99 L1532.03,644.99 L1532.53,644.99 L1533.03,644.99 L1533.53,645.00 L1534.03,645.00 L1534.53,645.00 L1535.03,645.00 L1535.53,645.01 L1536.03,645.01 L1536.53,645.01 L1537.03,645.01 L1537.53,645.01 L1538.03,645.02 L1538.53,645.02 L1539.03,645.02 L1539.53,645.02 L1540.03,645.02 L1540.53,645.03 L1541.03,645.03 L1541.53,645.03 L1542.03,645.03 L1542.53,645.03 L1543.03,645.04 L1543.53,645.04 L1544.03,645.04 L1544.53,645.04 L1545.03,645.04 L1545.53,645.04 L1546.03,645.05 L1546.53,645.05 L1547.03,645.05 L1547.53,645.05 L1548.03,645.05 L1548.53,645.06 L1549.03,645.06 L1549.53,645.06 L1550.03,645.06 L1550.53,645.06 L1551.03,645.06 L1551.53,645.07 L1552.03,645.07 L1552.53,645.07 L1553.03,645.07 L1553.53,645.07 L1554.03,645.08 L1554.53,645.08 L1555.03,645.08 L1555.53,645.08 L1556.03,645.08 L1556.53,645.08 L1557.03,645.09 L1557.53,645.09 L1558.03,645.09 L1558.53,645.09 L1559.03,645.09 L1559.53,645.09 L1560.03,645.10 L1560.53,645.10 L1561.03,645.10 L1561.53,645.10 L1562.03,645.10 L1562.53,645.10 L1563.03,645.11 L1563.53,645.11 L1564.03,645.11 L1564.53,645.11 L1565.03,645.11 L1565.53,645.11 L1566.03,645.11 L1566.53,645.12 L1567.03,645.12 L1567.53,645.12 L1568.03,645.12 L1568.53,645.12 L1569.03,645.12 L1569.53,645.13 L1570.03,645.13 L1570.53,645.13 L1571.03,645.13 L1571.53,645.13 L1572.03,645.13 L1572.53,645.13 L1573.03,645.14 L1573.53,645.14 L1574.03,645.14 L1574.53,645.14 L1575.03,645.14 L1575.53,645.14 L1576.03,645.14 L1576.53,645.15 L1577.03,645.15 L1577.53,645.15 L1578.03,645.15 L1578.53,645.15 L1579.03,645.15 L1579.53,645.15 L1580.03,645.15 L1580.53,645.16 L1581.03,645.16 L1581.53,645.16 L1582.03,645.16 L1582.53,645.16 L1583.03,645.16 L1583.53,645.16 L1584.03,645.17 L1584.53,645.17 L1585.03,645.17 L1585.53,645.17 L1586.03,645.17 L1586.53,645.17 L1587.03,645.17 L1587.53,645.17 L1588.03,645.18 L1588.53,645.18 L1589.03,645.18 L1589.53,645.18 L1590.03,645.18 L1590.53,645.18 L1591.03,645.18 L1591.53,645.18 L1592.03,645.18 L1592.53,645.19 L1593.03,645.19 L1593.53,645.19 L1594.03,645.19 L1594.53,645.19 L1595.03,645.19 L1595.53,645.19 L1596.03,645.19 L1596.53,645.20 L1597.03,645.20 L1597.53,645.20 L1598.03,645.20 L1598.53,645.20 L1599.03,645.20 L1599.53,645.20 L1600.03,645.20 L1600.53,645.20 L1601.03,645.20 L1601.53,645.21 L1602.03,645.21 L1602.53,645.21 L1603.03,645.21 L1603.53,645.21 L1604.03,645.21 L1604.53,645.21 L1605.03,645.21 L1605.53,645.21 L1606.03,645.21 L1606.53,645.22 L1607.03,645.22 L1607.53,645.22 L1608.03,645.22 L1608.53,645.22 L1609.03,645.22 L1609.53,645.22 L1610.03,645.22 L1610.53,645.22 L1611.03,645.22 L1611.53,645.23 L1612.03,645.23 L1612.53,645.23 L1613.03,645.23 L1613.53,645.23 L1614.03,645.23 L1614.53,645.23 L1615.03,645.23 L1615.53,645.23 L1616.03,645.23 L1616.53,645.23 L1617.03,645.23 L1617.53,645.24 L1618.03,645.24 L1618.53,645.24 L1619.03,645.24 L1619.53,645.24 L1620.03,645.24 L1620.53,645.24 L1621.03,645.24 L1621.53,645.24 L1622.03,645.24 L1622.53,645.24 L1623.03,645.24 L1623.53,645.25 L1624.03,645.25 L1624.53,645.25 L1625.03,645.25 L1625.53,645.25 L1626.03,645.25 L1626.53,645.25 L1627.03,645.25 L1627.53,645.25 L1628.03,645.25 L1628.53,645.25 L1629.03,645.25 L1629.53,645.25 L1630.03,645.26 L1630.53,645.26 L1631.03,645.26 L1631.53,645.26 L1632.03,645.26 L1632.53,645.26 L1633.03,645.26 L1633.53,645.26 L1634.03,645.26 L1634.53,645.26 L1635.03,645.26 L1635.53,645.26 L1636.03,645.26 L1636.53,645.26 L1637.03,645.26 L1637.53,645.27 L1638.03,645.27 L1638.53,645.27 L1639.03,645.27 L1639.53,645.27 L1640.03,645.27 L1640.53,645.27 L1641.03,645.27 L1641.53,645.27 L1642.03,645.27 L1642.53,645.27 L1643.03,645.27 L1643.53,645.27 L1644.03,645.27 L1644.53,645.27 L1645.03,645.27 L1645.53,645.27 L1646.03,645.28 L1646.53,645.28 L1647.03,645.28 L1647.53,645.28 L1648.03,645.28 L1648.53,645.28 L1649.03,645.28 L1649.53,645.28 L1650.03,645.28 L1650.53,645.28 L1651.03,645.28 L1651.53,645.28 L1652.03,645.28 L1652.53,645.28 L1653.03,645.28 L1653.53,645.28 L1654.03,645.28 L1654.53,645.28 L1655.03,645.28 L1655.53,645.28 L1656.03,645.29 L1656.53,645.29 L1657.03,645.29 L1657.53,645.29 L1658.03,645.29 L1658.53,645.29 L1659.03,645.29 L1659.53,645.29 L1660.03,645.29 L1660.53,645.29 L1661.03,645.29 L1661.53,645.29 L1662.03,645.29 L1662.53,645.29 L1663.03,645.29 L1663.53,645.29 L1664.03,645.29 L1664.53,645.29 L1665.03,645.29 L1665.53,645.29 L1666.03,645.29 L1666.53,645.29 L1667.03,645.29 L1667.53,645.29 L1668.03,645.29 L1668.53,645.30 L1669.03,645.30 L1669.53,645.30 L1670.03,645.30 L1670.53,645.30 L1671.03,645.30 L1671.53,645.30 L1672.03,645.30 L1672.53,645.30 L1673.03,645.30 L1673.53,645.30 L1674.03,645.30 L1674.53,645.30 L1675.03,645.30 L1675.53,645.30 L1676.03,645.30 L1676.53,645.30 L1677.03,645.30 L1677.53,645.30 L1678.03,645.30 L1678.53,645.30 L1679.03,645.30 L1679.53,645.30 L1680.03,645.30 L1680.53,645.30 L1681.03,645.30 L1681.53,645.30 L1682.03,645.30 L1682.53,645.30 L1683.03,645.30 L1683.53,645.30 L1684.03,645.30 L1684.53,645.30 L1685.03,645.31 L1685.53,645.31 L1686.03,645.31 L1686.53,645.31 L1687.03,645.31 L1687.53,645.31 L1688.03,645.31 L1688.53,645.31 L1689.03,645.31 L1689.53,645.31 L1690.03,645.31 L1690.53,645.31 L1691.03,645.31 L1691.53,645.31 L1692.03,645.31 L1692.53,645.31 L1693.03,645.31 L1693.53,645.31 L1694.03,645.31 L1694.53,645.31 L1695.03,645.31 L1695.53,645.31 L1696.03,645.31 L1696.53,645.31 L1697.03,645.31 L1697.53,645.31 L1698.03,645.31 L1698.53,645.31 L1699.03,645.31 L1699.53,645.31 L1700.03,645.31 L1700.53,645.31 L1701.03,645.31 L1701.53,645.31 L1702.03,645.31 L1702.53,645.31 L1703.03,645.31 L1703.53,645.31 L1704.03,645.31 L1704.53,645.31 L1705.03,645.31 L1705.53,645.31 L1706.03,645.31 L1706.53,645.31 L1707.03,645.31 L1707.53,645.31 L1708.03,645.31 L1708.53,645.31 L1709.03,645.31 L1709.53,645.31 L1710.03,645.31 L1710.53,645.31 L1711.03,645.31 L1711.53,645.31 L1712.03,645.31 L1712.53,645.31 L1713.03,645.31 L1713.53,645.31 L1714.03,645.31 L1714.53,645.31 L1715.03,645.31 L1715.53,645.31 L1716.03,645.31 L1716.53,645.31 L1717.03,645.32 L1717.53,645.32 L1718.03,645.32 L1718.53,645.32 L1719.03,645.32 L1719.53,645.32 L1720.03,645.32 L1720.53,645.32 L1721.03,645.32 L1721.53,645.32 L1722.03,645.32 L1722.53,645.32 L1723.03,645.32 L1723.53,645.32 L1724.03,645.32 L1724.53,645.32 L1725.03,645.32 L1725.53,645.32 L1726.03,645.32 L1726.53,645.32 L1727.03,645.32 L1727.53,645.32 L1728.03,645.32 L1728.53,645.32 L1729.03,645.32 L1729.53,645.32 L1730.03,645.32 L1730.53,645.32 L1731.03,645.32 L1731.53,645.32 L1732.03,645.32 L1732.53,645.32 L1733.03,645.32 L1733.53,645.32 L1734.03,645.32 L1734.53,645.32 L1735.03,645.32 L1735.53,645.32 L1736.03,645.32 L1736.53,645.32 L1737.03,645.32 L1737.53,645.32 L1738.03,645.32 L1738.53,645.32 L1739.03,645.32 L1739.53,645.32 L1740.03,645.32 L1740.53,645.32 L1741.03,645.32 L1741.53,645.32 L1742.03,645.32 L1742.53,645.32 L1743.03,645.32 L1743.53,645.32 L1744.03,645.32 L1744.53,645.32 L1745.03,645.32 L1745.53,645.32 L1746.03,645.32 L1746.53,645.32 L1747.03,645.32 L1747.53,645.32 L1748.03,645.32 L1748.53,645.32 L1749.03,645.32 L1749.53,645.32 L1750.03,645.32 L1750.53,645.32 L1751.03,645.32 L1751.53,645.32 L1752.03,645.32 L1752.53,645.32 L1753.03,645.32 L1753.53,645.32 L1754.03,645.32 L1754.53,645.32 L1755.03,645.32 L1755.53,645.32 L1756.03,645.32 L1756.53,645.32 L1757.03,645.32 L1757.53,645.32 L1757.98,645.32" stroke="#3333ff" stroke-width="1.8" fill="none"/>
<path d="M1382.03,645.32 L1382.53,645.32 L1383.03,645.32 L1383.53,645.32 L1384.03,645.32 L1384.53,645.32 L1385.03,645.32 L1385.53,645.32 L1386.03,645.32 L1386.53,645.32 L1387.03,645.32 L1387.53,645.32 L1388.03,645.32 L1388.53,645.32 L1389.03,645.32 L1389.53,645.32 L1390.03,645.32 L1390.53,645.32 L1391.03,645.32 L1391.53,645.32 L1392.03,645.32 L1392.53,645.32 L1393.03,645.32 L1393.53,645.32 L1394.03,645.32 L1394.53,645.32 L1395.03,645.32 L1395.53,645.32 L1396.03,645.32 L1396.53,645.32 L1397.03,645.32 L1397.53,645.32 L1398.03,645.32 L1398.53,645.32 L1399.03,645.32 L1399.53,645.32 L1400.03,645.32 L1400.53,645.32 L1401.03,645.32 L1401.53,645.32 L1402.03,645.32 L1402.53,645.32 L1403.03,645.32 L1403.53,645.32 L1404.03,645.32 L1404.53,645.32 L1405.03,645.32 L1405.53,645.32 L1406.03,645.32 L1406.53,645.32 L1407.03,645.32 L1407.53,645.32 L1408.03,645.32 L1408.53,645.32 L1409.03,645.32 L1409.53,645.32 L1410.03,645.32 L1410.53,645.32 L1411.03,645.31 L1411.53,645.31 L1412.03,645.31 L1412.53,645.31 L1413.03,645.31 L1413.53,645.31 L1414.03,645.31 L1414.53,645.31 L1415.03,645.31 L1415.53,645.31 L1416.03,645.31 L1416.53,645.31 L1417.03,645.31 L1417.53,645.31 L1418.03,645.31 L1418.53,645.31 L1419.03,645.31 L1419.53,645.31 L1420.03,645.31 L1420.53,645.31 L1421.03,645.31 L1421.53,645.31 L1422.03,645.31 L1422.53,645.31 L1423.03,645.31 L1423.53,645.31 L1424.03,645.31 L1424.53,645.31 L1425.03,645.31 L1425.53,645.31 L1426.03,645.31 L1426.53,645.31 L1427.03,645.31 L1427.53,645.31 L1428.03,645.31 L1428.53,645.31 L1429.03,645.31 L1429.53,645.31 L1430.03,645.31 L1430.53,645.31 L1431.03,645.31 L1431.53,645.31 L1432.03,645.31 L1432.53,645.31 L1433.03,645.31 L1433.53,645.30 L1434.03,645.30 L1434.53,645.30 L1435.03,645.30 L1435.53,645.30 L1436.03,645.30 L1436.53,645.30 L1437.03,645.30 L1437.53,645.30 L1438.03,645.30 L1438.53,645.30 L1439.03,645.30 L1439.53,645.30 L1440.03,645.30 L1440.53,645.30 L1441.03,645.30 L1441.53,645.30 L1442.03,645.30 L1442.53,645.30 L1443.03,645.30 L1443.53,645.30 L1444.03,645.30 L1444.53,645.30 L1445.03,645.29 L1445.53,645.29 L1446.03,645.29 L1446.53,645.29 L1447.03,645.29 L1447.53,645.29 L1448.03,645.29 L1448.53,645.29 L1449.03,645.29 L1449.53,645.29 L1450.03,645.29 L1450.53,645.29 L1451.03,645.29 L1451.53,645.29 L1452.03,645.29 L1452.53,645.29 L1453.03,645.29 L1453.53,645.28 L1454.03,645.28 L1454.53,645.28 L1455.03,645.28 L1455.53,645.28 L1456.03,645.28 L1456.53,645.28 L1457.03,645.28 L1457.53,645.28 L1458.03,645.28 L1458.53,645.28 L1459.03,645.28 L1459.53,645.28 L1460.03,645.28 L1460.53,645.27 L1461.03,645.27 L1461.53,645.27 L1462.03,645.27 L1462.53,645.27 L1463.03,645.27 L1463.53,645.27 L1464.03,645.27 L1464.53,645.27 L1465.03,645.27 L1465.53,645.27 L1466.03,645.27 L1466.53,645.26 L1467.03,645.26 L1467.53,645.26 L1468.03,645.26 L1468.53,645.26 L1469.03,645.26 L1469.53,645.26 L1470.03,645.26 L1470.53,645.26 L1471.03,645.26 L1471.53,645.25 L1472.03,645.25 L1472.53,645.25 L1473.03,645.25 L1473.53,645.25 L1474.03,645.25 L1474.53,645.25 L1475.03,645.25 L1475.53,645.25 L1476.03,645.24 L1476.53,645.24 L1477.03,645.24 L1477.53,645.24 L1478.03,645.24 L1478.53,645.24 L1479.03,645.24 L1479.53,645.24 L1480.03,645.24 L1480.53,645.23 L1481.03,645.23 L1481.53,645.23 L1482.03,645.23 L1482.53,645.23 L1483.03,645.23 L1483.53,645.23 L1484.03,645.23 L1484.53,645.22 L1485.03,645.22 L1485.53,645.22 L1486.03,645.22 L1486.53,645.22 L1487.03,645.22 L1487.53,645.22 L1488.03,645.21 L1488.53,645.21 L1489.03,645.21 L1489.53,645.21 L1490.03,645.21 L1490.53,645.21 L1491.03,645.21 L1491.53,645.20 L1492.03,645.20 L1492.53,645.20 L1493.03,645.20 L1493.53,645.20 L1494.03,645.20 L1494.53,645.19 L1495.03,645.19 L1495.53,645.19 L1496.03,645.19 L1496.53,645.19 L1497.03,645.19 L1497.53,645.18 L1498.03,645.18 L1498.53,645.18 L1499.03,645.18 L1499.53,645.18 L1500.03,645.18 L1500.53,645.17 L1501.03,645.17 L1501.53,645.17 L1502.03,645.17 L1502.53,645.17 L1503.03,645.17 L1503.53,645.16 L1504.03,645.16 L1504.53,645.16 L1505.03,645.16 L1505.53,645.16 L1506.03,645.15 L1506.53,645.15 L1507.03,645.15 L1507.53,645.15 L1508.03,645.15 L1508.53,645.14 L1509.03,645.14 L1509.53,645.14 L1510.03,645.14 L1510.53,645.14 L1511.03,645.13 L1511.53,645.13 L1512.03,645.13 L1512.53,645.13 L1513.03,645.13 L1513.53,645.12 L1514.03,645.12 L1514.53,645.12 L1515.03,645.12 L1515.53,645.11 L1516.03,645.11 L1516.53,645.11 L1517.03,645.11 L1517.53,645.11 L1518.03,645.10 L1518.53,645.10 L1519.03,645.10 L1519.53,645.10 L1520.03,645.09 L1520.53,645.09 L1521.03,645.09 L1521.53,645.09 L1522.03,645.08 L1522.53,645.08 L1523.03,645.08 L1523.53,645.08 L1524.03,645.07 L1524.53,645.07 L1525.03,645.07 L1525.53,645.07 L1526.03,645.06 L1526.53,645.06 L1527.03,645.06 L1527.53,645.06 L1528.03,645.05 L1528.53,645.05 L1529.03,645.05 L1529.53,645.05 L1530.03,645.04 L1530.53,645.04 L1531.03,645.04 L1531.53,645.04 L1532.03,645.03 L1532.53,645.03 L1533.03,645.03 L1533.53,645.02 L1534.03,645.02 L1534.53,645.02 L1535.03,645.02 L1535.53,645.01 L1536.03,645.01 L1536.53,645.01 L1537.03,645.00 L1537.53,645.00 L1538.03,645.00 L1538.53,644.99 L1539.03,644.99 L1539.53,644.99 L1540.03,644.99 L1540.53,644.98 L1541.03,644.98 L1541.53,644.98 L1542.03,644.97 L1542.53,644.97 L1543.03,644.97 L1543.53,644.96 L1544.03,644.96 L1544.53,644.96 L1545.03,644.95 L1545.53,644.95 L1546.03,644.95 L1546.53,644.94 L1547.03,644.94 L1547.53,644.94 L1548.03,644.93 L1548.53,644.93 L1549.03,644.93 L1549.53,644.92 L1550.03,644.92 L1550.53,644.92 L1551.03,644.91 L1551.53,644.91 L1552.03,644.91 L1552.53,644.90 L1553.03,644.90 L1553.53,644.89 L1554.03,644.89 L1554.53,644.89 L1555.03,644.88 L1555.53,644.88 L1556.03,644.88 L1556.53,644.87 L1557.03,644.87 L1557.53,644.86 L1558.03,644.86 L1558.53,644.86 L1559.03,644.85 L1559.53,644.85 L1560.03,644.85 L1560.53,644.84 L1561.03,644.84 L1561.53,644.83 L1562.03,644.83 L1562.53,644.83 L1563.03,644.82 L1563.53,644.82 L1564.03,644.81 L1564.53,644.81 L1565.03,644.81 L1565.53,644.80 L1566.03,644.80 L1566.53,644.79 L1567.03,644.79 L1567.53,644.78 L1568.03,644.78 L1568.53,644.78 L1569.03,644.77 L1569.53,644.77 L1570.03,644.76 L1570.53,644.76 L1571.03,644.75 L1571.53,644.75 L1572.03,644.75 L1572.53,644.74 L1573.03,644.74 L1573.53,644.73 L1574.03,644.73 L1574.53,644.72 L1575.03,644.72 L1575.53,644.71 L1576.03,644.71 L1576.53,644.70 L1577.03,644.70 L1577.53,644.70 L1578.03,644.69 L1578.53,644.69 L1579.03,644.68 L1579.53,644.68 L1580.03,644.67 L1580.53,644.67 L1581.03,644.66 L1581.53,644.66 L1582.03,644.65 L1582.53,644.65 L1583.03,644.64 L1583.53,644.64 L1584.03,644.63 L1584.53,644.63 L1585.03,644.62 L1585.53,644.62 L1586.03,644.61 L1586.53,644.61 L1587.03,644.60 L1587.53,644.60 L1588.03,644.59 L1588.53,644.59 L1589.03,644.58 L1589.53,644.58 L1590.03,644.57 L1590.53,644.57 L1591.03,644.56 L1591.53,644.55 L1592.03,644.55 L1592.53,644.54 L1593.03,644.54 L1593.53,644.53 L1594.03,644.53 L1594.53,644.52 L1595.03,644.52 L1595.53,644.51 L1596.03,644.50 L1596.53,644.50 L1597.03,644.49 L1597.53,644.49 L1598.03,644.48 L1598.53,644.48 L1599.03,644.47 L1599.53,644.47 L1600.03,644.46 L1600.53,644.45 L1601.03,644.45 L1601.53,644.44 L1602.03,644.44 L1602.53,644.43 L1603.03,644.42 L1603.53,644.42 L1604.03,644.05 L1604.53,643.09 L1605.03,641.59 L1605.53,639.61 L1606.03,637.22 L1606.53,633.53 L1607.03,626.01 L1607.53,615.74 L1608.03,604.11 L1608.53,588.81 L1609.03,569.73 L1609.53,550.24 L1610.03,530.86 L1610.53,510.49 L1611.03,491.73 L1611.53,476.99 L1612.03,464.90 L1612.53,454.61 L1613.03,446.14 L1613.53,438.45 L1614.03,431.37 L1614.53,425.49 L1615.03,421.35 L1615.53,419.07 L1616.03,417.37 L1616.53,416.04 L1617.03,414.93 L1617.53,413.90 L1618.03,412.83 L1618.53,411.58 L1619.03,410.03 L1619.53,408.21 L1620.03,406.25 L1620.53,404.26 L1621.03,402.35 L1621.53,400.66 L1622.03,399.28 L1622.53,398.36 L1623.03,397.99 L1623.53,398.94 L1624.03,401.75 L1624.53,405.88 L1625.03,410.80 L1625.53,416.28 L1626.03,424.15 L1626.53,434.22 L1627.03,445.73 L1627.53,457.93 L1628.03,471.45 L1628.53,487.08 L1629.03,503.80 L1629.53,520.73 L1630.03,538.97 L1630.53,557.40 L1631.03,574.18 L1631.53,590.11 L1632.03,604.79 L1632.53,616.53 L1633.03,626.70 L1633.53,635.87 L1634.03,641.89 L1634.53,643.26 L1635.03,643.65 L1635.53,643.98 L1636.03,644.25 L1636.53,644.47 L1637.03,644.63 L1637.53,644.75 L1638.03,644.83 L1638.53,644.86 L1639.03,644.87 L1639.53,644.87 L1640.03,644.87 L1640.53,644.87 L1641.03,644.87 L1641.53,644.87 L1642.03,644.87 L1642.53,644.87 L1643.03,644.87 L1643.53,644.87 L1644.03,644.87 L1644.53,644.87 L1645.03,644.87 L1645.53,644.87 L1646.03,644.87 L1646.53,644.87 L1647.03,644.87 L1647.53,644.87 L1648.03,644.87 L1648.53,644.87 L1649.03,644.87 L1649.53,644.87 L1650.03,644.87 L1650.53,644.87 L1651.03,644.87 L1651.53,644.87 L1652.03,644.87 L1652.53,644.87 L1653.03,644.87 L1653.53,644.87 L1654.03,644.87 L1654.53,644.87 L1655.03,644.87 L1655.53,644.87 L1656.03,644.87 L1656.53,644.87 L1657.03,644.87 L1657.53,644.87 L1658.03,644.87 L1658.53,644.87 L1659.03,644.87 L1659.53,644.87 L1660.03,644.87 L1660.53,644.87 L1661.03,644.87 L1661.53,644.87 L1662.03,644.87 L1662.53,644.87 L1663.03,644.87 L1663.53,644.87 L1664.03,644.87 L1664.53,644.87 L1665.03,644.87 L1665.53,644.87 L1666.03,644.87 L1666.53,644.87 L1667.03,644.87 L1667.53,644.87 L1668.03,644.87 L1668.53,644.87 L1669.03,644.87 L1669.53,644.87 L1670.03,644.87 L1670.53,644.87 L1671.03,644.87 L1671.53,644.87 L1672.03,644.87 L1672.53,644.87 L1673.03,644.87 L1673.53,644.87 L1674.03,644.87 L1674.53,644.87 L1675.03,644.87 L1675.53,644.87 L1676.03,644.87 L1676.53,644.87 L1677.03,644.87 L1677.53,644.87 L1678.03,644.87 L1678.53,644.87 L1679.03,644.87 L1679.53,644.87 L1680.03,644.87 L1680.53,644.87 L1681.03,644.87 L1681.53,644.87 L1682.03,644.87 L1682.53,644.87 L1683.03,644.87 L1683.53,644.87 L1684.03,644.87 L1684.53,644.87 L1685.03,644.87 L1685.53,644.87 L1686.03,644.87 L1686.53,644.87 L1687.03,644.87 L1687.53,644.87 L1688.03,644.87 L1688.53,644.87 L1689.03,644.87 L1689.53,644.87 L1690.03,644.87 L1690.53,644.87 L1691.03,644.87 L1691.53,644.87 L1692.03,644.87 L1692.53,644.87 L1693.03,644.87 L1693.53,644.87 L1694.03,644.87 L1694.53,644.87 L1695.03,644.87 L1695.53,644.87 L1696.03,644.87 L1696.53,644.87 L1697.03,644.87 L1697.53,644.87 L1698.03,644.87 L1698.53,644.87 L1699.03,644.87 L1699.53,644.87 L1700.03,644.87 L1700.53,644.87 L1701.03,644.87 L1701.53,644.87 L1702.03,644.87 L1702.53,644.87 L1703.03,644.87 L1703.53,644.87 L1704.03,644.87 L1704.53,644.87 L1705.03,644.87 L1705.53,644.87 L1706.03,644.87 L1706.53,644.87 L1707.03,644.87 L1707.53,644.87 L1708.03,644.87 L1708.53,644.87 L1709.03,644.87 L1709.53,644.87 L1710.03,644.87 L1710.53,644.87 L1711.03,644.87 L1711.53,644.87 L1712.03,644.87 L1712.53,644.87 L1713.03,644.87 L1713.53,644.87 L1714.03,644.87 L1714.53,644.87 L1715.03,644.87 L1715.53,644.87 L1716.03,644.87 L1716.53,644.87 L1717.03,644.87 L1717.53,644.87 L1718.03,644.87 L1718.53,644.87 L1719.03,644.87 L1719.53,644.87 L1720.03,644.87 L1720.53,644.87 L1721.03,644.87 L1721.53,644.87 L1722.03,644.87 L1722.53,644.87 L1723.03,644.87 L1723.53,644.87 L1724.03,644.87 L1724.53,644.87 L1725.03,644.87 L1725.53,644.87 L1726.03,644.87 L1726.53,644.87 L1727.03,644.87 L1727.53,644.87 L1728.03,644.87 L1728.53,644.87 L1729.03,644.87 L1729.53,644.87 L1730.03,644.87 L1730.53,644.87 L1731.03,644.87 L1731.53,644.87 L1732.03,644.87 L1732.53,644.87 L1733.03,644.87 L1733.53,644.87 L1734.03,644.87 L1734.53,644.87 L1735.03,644.87 L1735.53,644.87 L1736.03,644.87 L1736.53,644.87 L1737.03,644.87 L1737.53,644.87 L1738.03,644.87 L1738.53,644.87 L1739.03,644.87 L1739.53,644.87 L1740.03,644.87 L1740.53,644.87 L1741.03,644.87 L1741.53,644.87 L1742.03,644.87 L1742.53,644.87 L1743.03,644.87 L1743.53,644.87 L1744.03,644.87 L1744.53,644.87 L1745.03,644.87 L1745.53,644.87 L1746.03,644.87 L1746.53,644.87 L1747.03,644.87 L1747.53,644.87 L1748.03,644.87 L1748.53,644.87 L1749.03,644.87 L1749.53,644.87 L1750.03,644.87 L1750.53,644.87 L1751.03,644.87 L1751.53,644.87 L1752.03,644.87 L1752.53,644.87 L1753.03,644.87 L1753.53,644.87 L1754.03,644.87 L1754.53,644.87 L1755.03,644.87 L1755.53,644.87 L1756.03,644.87 L1756.53,644.87 L1757.03,644.87 L1757.53,644.87 L1757.98,644.87" stroke="#ff3333" stroke-width="1.8" fill="none"/>
<path d="M1382.03,643.52 L1382.53,643.52 L1383.03,643.52 L1383.53,643.52 L1384.03,643.51 L1384.53,643.51 L1385.03,643.51 L1385.53,643.50 L1386.03,643.49 L1386.53,643.49 L1387.03,643.48 L1387.53,643.47 L1388.03,643.46 L1388.53,643.45 L1389.03,643.44 L1389.53,643.43 L1390.03,643.42 L1390.53,643.41 L1391.03,643.39 L1391.53,643.38 L1392.03,643.36 L1392.53,643.35 L1393.03,643.33 L1393.53,643.31 L1394.03,643.29 L1394.53,643.27 L1395.03,643.25 L1395.53,643.23 L1396.03,643.20 L1396.53,643.18 L1397.03,643.15 L1397.53,643.13 L1398.03,643.10 L1398.53,643.07 L1399.03,643.04 L1399.53,643.01 L1400.03,642.98 L1400.53,642.95 L1401.03,642.92 L1401.53,642.88 L1402.03,642.85 L1402.53,642.81 L1403.03,642.77 L1403.53,642.74 L1404.03,642.70 L1404.53,642.66 L1405.03,642.61 L1405.53,642.55 L1406.03,642.44 L1406.53,642.29 L1407.03,642.11 L1407.53,641.90 L1408.03,641.66 L1408.53,641.39 L1409.03,641.10 L1409.53,640.78 L1410.03,640.45 L1410.53,640.10 L1411.03,639.73 L1411.53,639.35 L1412.03,638.97 L1412.53,638.58 L1413.03,638.18 L1413.53,637.79 L1414.03,637.39 L1414.53,636.97 L1415.03,636.52 L1415.53,636.03 L1416.03,635.52 L1416.53,634.97 L1417.03,634.40 L1417.53,633.80 L1418.03,633.17 L1418.53,632.53 L1419.03,631.87 L1419.53,631.18 L1420.03,630.49 L1420.53,629.78 L1421.03,629.05 L1421.53,628.32 L1422.03,627.58 L1422.53,626.84 L1423.03,626.09 L1423.53,625.34 L1424.03,624.57 L1424.53,623.80 L1425.03,623.00 L1425.53,622.19 L1426.03,621.34 L1426.53,620.46 L1427.03,619.55 L1427.53,618.59 L1428.03,617.59 L1428.53,616.53 L1429.03,615.42 L1429.53,614.25 L1430.03,612.95 L1430.53,611.38 L1431.03,609.60 L1431.53,607.67 L1432.03,605.68 L1432.53,603.70 L1433.03,601.80 L1433.53,600.05 L1434.03,598.54 L1434.53,597.27 L1435.03,596.10 L1435.53,595.01 L1436.03,593.98 L1436.53,593.01 L1437.03,592.08 L1437.53,591.17 L1438.03,590.28 L1438.53,589.39 L1439.03,588.52 L1439.53,587.70 L1440.03,586.93 L1440.53,586.19 L1441.03,585.46 L1441.53,584.74 L1442.03,584.01 L1442.53,583.26 L1443.03,582.46 L1443.53,581.60 L1444.03,580.67 L1444.53,579.66 L1445.03,578.55 L1445.53,577.34 L1446.03,576.05 L1446.53,574.69 L1447.03,573.28 L1447.53,571.81 L1448.03,570.30 L1448.53,568.76 L1449.03,567.20 L1449.53,565.64 L1450.03,564.07 L1450.53,562.41 L1451.03,560.64 L1451.53,558.80 L1452.03,556.93 L1452.53,555.06 L1453.03,553.23 L1453.53,551.47 L1454.03,549.84 L1454.53,548.35 L1455.03,546.91 L1455.53,545.49 L1456.03,544.09 L1456.53,542.72 L1457.03,541.40 L1457.53,540.15 L1458.03,538.96 L1458.53,537.85 L1459.03,536.85 L1459.53,535.95 L1460.03,535.17 L1460.53,534.51 L1461.03,533.92 L1461.53,533.39 L1462.03,532.92 L1462.53,532.47 L1463.03,532.05 L1463.53,531.63 L1464.03,531.20 L1464.53,530.74 L1465.03,530.24 L1465.53,529.69 L1466.03,529.09 L1466.53,528.48 L1467.03,527.86 L1467.53,527.21 L1468.03,526.52 L1468.53,525.77 L1469.03,524.96 L1469.53,524.06 L1470.03,523.07 L1470.53,521.92 L1471.03,520.50 L1471.53,518.85 L1472.03,517.00 L1472.53,515.00 L1473.03,512.91 L1473.53,510.76 L1474.03,508.60 L1474.53,506.48 L1475.03,504.37 L1475.53,502.14 L1476.03,499.79 L1476.53,497.35 L1477.03,494.86 L1477.53,492.33 L1478.03,489.80 L1478.53,487.28 L1479.03,484.81 L1479.53,482.40 L1480.03,480.10 L1480.53,477.91 L1481.03,475.87 L1481.53,474.00 L1482.03,472.12 L1482.53,470.19 L1483.03,468.25 L1483.53,466.34 L1484.03,464.51 L1484.53,462.80 L1485.03,461.26 L1485.53,459.92 L1486.03,458.83 L1486.53,458.03 L1487.03,457.57 L1487.53,457.32 L1488.03,457.11 L1488.53,456.93 L1489.03,456.78 L1489.53,456.65 L1490.03,456.54 L1490.53,456.44 L1491.03,456.35 L1491.53,456.26 L1492.03,456.17 L1492.53,456.07 L1493.03,455.96 L1493.53,455.83 L1494.03,455.67 L1494.53,455.48 L1495.03,455.26 L1495.53,454.99 L1496.03,454.66 L1496.53,454.28 L1497.03,453.85 L1497.53,453.37 L1498.03,452.85 L1498.53,452.28 L1499.03,451.68 L1499.53,451.05 L1500.03,450.39 L1500.53,449.69 L1501.03,448.92 L1501.53,448.04 L1502.03,447.05 L1502.53,445.97 L1503.03,444.80 L1503.53,443.56 L1504.03,442.25 L1504.53,440.89 L1505.03,439.48 L1505.53,438.03 L1506.03,436.55 L1506.53,434.99 L1507.03,433.21 L1507.53,431.25 L1508.03,429.14 L1508.53,426.93 L1509.03,424.65 L1509.53,422.35 L1510.03,420.06 L1510.53,417.83 L1511.03,415.69 L1511.53,413.69 L1512.03,411.86 L1512.53,410.24 L1513.03,408.86 L1513.53,407.57 L1514.03,406.30 L1514.53,405.09 L1515.03,403.95 L1515.53,402.91 L1516.03,401.98 L1516.53,401.20 L1517.03,400.57 L1517.53,400.12 L1518.03,399.73 L1518.53,399.37 L1519.03,399.03 L1519.53,398.72 L1520.03,398.46 L1520.53,398.25 L1521.03,398.09 L1521.53,398.01 L1522.03,398.00 L1522.53,398.15 L1523.03,398.46 L1523.53,398.91 L1524.03,399.47 L1524.53,400.09 L1525.03,400.75 L1525.53,401.42 L1526.03,402.06 L1526.53,402.67 L1527.03,403.41 L1527.53,404.27 L1528.03,405.15 L1528.53,405.96 L1529.03,406.59 L1529.53,406.94 L1530.03,406.92 L1530.53,406.53 L1531.03,405.90 L1531.53,405.16 L1532.03,404.45 L1532.53,403.89 L1533.03,403.62 L1533.53,403.63 L1534.03,403.70 L1534.53,403.82 L1535.03,404.00 L1535.53,404.21 L1536.03,404.46 L1536.53,404.75 L1537.03,405.50 L1537.53,406.90 L1538.03,408.73 L1538.53,410.81 L1539.03,412.92 L1539.53,414.85 L1540.03,416.44 L1540.53,417.91 L1541.03,419.35 L1541.53,420.74 L1542.03,422.07 L1542.53,423.33 L1543.03,424.50 L1543.53,425.57 L1544.03,426.58 L1544.53,427.53 L1545.03,428.43 L1545.53,429.29 L1546.03,430.12 L1546.53,430.92 L1547.03,431.71 L1547.53,432.48 L1548.03,433.26 L1548.53,434.04 L1549.03,434.83 L1549.53,435.65 L1550.03,436.49 L1550.53,437.37 L1551.03,438.30 L1551.53,439.27 L1552.03,440.28 L1552.53,441.31 L1553.03,442.37 L1553.53,443.45 L1554.03,444.55 L1554.53,445.66 L1555.03,446.77 L1555.53,447.90 L1556.03,449.02 L1556.53,450.14 L1557.03,451.26 L1557.53,452.36 L1558.03,453.45 L1558.53,454.57 L1559.03,455.72 L1559.53,456.90 L1560.03,458.09 L1560.53,459.28 L1561.03,460.46 L1561.53,461.62 L1562.03,462.75 L1562.53,463.84 L1563.03,464.88 L1563.53,465.86 L1564.03,466.76 L1564.53,467.58 L1565.03,468.33 L1565.53,469.06 L1566.03,469.77 L1566.53,470.46 L1567.03,471.13 L1567.53,471.77 L1568.03,472.38 L1568.53,472.96 L1569.03,473.50 L1569.53,474.01 L1570.03,474.49 L1570.53,474.93 L1571.03,475.33 L1571.53,475.69 L1572.03,476.04 L1572.53,476.40 L1573.03,476.75 L1573.53,477.09 L1574.03,477.41 L1574.53,477.72 L1575.03,478.01 L1575.53,478.26 L1576.03,478.48 L1576.53,478.67 L1577.03,478.81 L1577.53,478.90 L1578.03,478.93 L1578.53,478.93 L1579.03,478.91 L1579.53,478.88 L1580.03,478.83 L1580.53,478.77 L1581.03,478.70 L1581.53,478.62 L1582.03,478.53 L1582.53,478.42 L1583.03,478.31 L1583.53,478.18 L1584.03,478.05 L1584.53,477.90 L1585.03,477.74 L1585.53,477.47 L1586.03,477.08 L1586.53,476.58 L1587.03,475.97 L1587.53,475.28 L1588.03,474.51 L1588.53,473.67 L1589.03,472.77 L1589.53,471.76 L1590.03,470.20 L1590.53,468.16 L1591.03,465.90 L1591.53,463.66 L1592.03,461.67 L1592.53,460.18 L1593.03,459.27 L1593.53,458.44 L1594.03,457.69 L1594.53,457.08 L1595.03,456.65 L1595.53,456.45 L1596.03,456.71 L1596.53,457.67 L1597.03,459.10 L1597.53,460.74 L1598.03,462.35 L1598.53,463.71 L1599.03,465.06 L1599.53,466.44 L1600.03,467.84 L1600.53,469.21 L1601.03,470.53 L1601.53,471.78 L1602.03,472.93 L1602.53,474.05 L1603.03,475.13 L1603.53,476.19 L1604.03,477.21 L1604.53,478.21 L1605.03,479.19 L1605.53,480.15 L1606.03,481.08 L1606.53,482.00 L1607.03,482.90 L1607.53,483.79 L1608.03,484.68 L1608.53,485.56 L1609.03,486.44 L1609.53,487.30 L1610.03,488.14 L1610.53,488.95 L1611.03,489.74 L1611.53,490.50 L1612.03,491.22 L1612.53,491.89 L1613.03,492.53 L1613.53,493.17 L1614.03,493.84 L1614.53,494.52 L1615.03,495.18 L1615.53,495.82 L1616.03,496.42 L1616.53,496.94 L1617.03,497.39 L1617.53,497.73 L1618.03,497.96 L1618.53,498.04 L1619.03,498.01 L1619.53,497.90 L1620.03,497.72 L1620.53,497.49 L1621.03,497.20 L1621.53,496.87 L1622.03,496.50 L1622.53,496.10 L1623.03,495.68 L1623.53,495.25 L1624.03,494.81 L1624.53,494.35 L1625.03,493.79 L1625.53,493.14 L1626.03,492.41 L1626.53,491.61 L1627.03,490.76 L1627.53,489.87 L1628.03,488.96 L1628.53,488.03 L1629.03,487.10 L1629.53,486.18 L1630.03,485.26 L1630.53,484.20 L1631.03,483.00 L1631.53,481.75 L1632.03,480.50 L1632.53,479.32 L1633.03,478.27 L1633.53,477.43 L1634.03,476.86 L1634.53,476.59 L1635.03,476.38 L1635.53,476.19 L1636.03,476.02 L1636.53,475.88 L1637.03,475.76 L1637.53,475.66 L1638.03,475.60 L1638.53,475.56 L1639.03,475.60 L1639.53,475.97 L1640.03,476.68 L1640.53,477.66 L1641.03,478.87 L1641.53,480.26 L1642.03,481.75 L1642.53,483.30 L1643.03,484.86 L1643.53,486.39 L1644.03,488.07 L1644.53,489.93 L1645.03,491.96 L1645.53,494.16 L1646.03,496.51 L1646.53,499.00 L1647.03,501.63 L1647.53,504.39 L1648.03,507.31 L1648.53,510.65 L1649.03,514.38 L1649.53,518.41 L1650.03,522.65 L1650.53,527.00 L1651.03,531.37 L1651.53,535.67 L1652.03,539.80 L1652.53,543.72 L1653.03,547.62 L1653.53,551.52 L1654.03,555.41 L1654.53,559.26 L1655.03,563.05 L1655.53,566.76 L1656.03,570.37 L1656.53,573.85 L1657.03,577.22 L1657.53,580.62 L1658.03,584.03 L1658.53,587.40 L1659.03,590.66 L1659.53,593.77 L1660.03,596.66 L1660.53,599.28 L1661.03,601.56 L1661.53,603.50 L1662.03,605.29 L1662.53,606.98 L1663.03,608.57 L1663.53,610.07 L1664.03,611.49 L1664.53,612.83 L1665.03,614.10 L1665.53,615.30 L1666.03,616.45 L1666.53,617.55 L1667.03,618.59 L1667.53,619.60 L1668.03,620.58 L1668.53,621.53 L1669.03,622.47 L1669.53,623.40 L1670.03,624.29 L1670.53,625.16 L1671.03,626.00 L1671.53,626.80 L1672.03,627.55 L1672.53,628.26 L1673.03,628.91 L1673.53,629.50 L1674.03,630.04 L1674.53,630.50 L1675.03,630.90 L1675.53,631.27 L1676.03,631.62 L1676.53,631.96 L1677.03,632.28 L1677.53,632.59 L1678.03,632.88 L1678.53,633.15 L1679.03,633.42 L1679.53,633.67 L1680.03,633.91 L1680.53,634.15 L1681.03,634.37 L1681.53,634.59 L1682.03,634.79 L1682.53,635.00 L1683.03,635.19 L1683.53,635.39 L1684.03,635.58 L1684.53,635.77 L1685.03,635.95 L1685.53,636.14 L1686.03,636.33 L1686.53,636.51 L1687.03,636.70 L1687.53,636.89 L1688.03,637.08 L1688.53,637.26 L1689.03,637.44 L1689.53,637.63 L1690.03,637.80 L1690.53,637.98 L1691.03,638.15 L1691.53,638.31 L1692.03,638.47 L1692.53,638.62 L1693.03,638.77 L1693.53,638.91 L1694.03,639.05 L1694.53,639.17 L1695.03,639.29 L1695.53,639.40 L1696.03,639.50 L1696.53,639.59 L1697.03,639.66 L1697.53,639.73 L1698.03,639.80 L1698.53,639.86 L1699.03,639.92 L1699.53,639.99 L1700.03,640.05 L1700.53,640.10 L1701.03,640.16 L1701.53,640.21 L1702.03,640.27 L1702.53,640.32 L1703.03,640.37 L1703.53,640.42 L1704.03,640.47 L1704.53,640.52 L1705.03,640.56 L1705.53,640.61 L1706.03,640.65 L1706.53,640.69 L1707.03,640.73 L1707.53,640.77 L1708.03,640.81 L1708.53,640.85 L1709.03,640.89 L1709.53,640.92 L1710.03,640.96 L1710.53,640.99 L1711.03,641.03 L1711.53,641.06 L1712.03,641.09 L1712.53,641.12 L1713.03,641.15 L1713.53,641.18 L1714.03,641.21 L1714.53,641.24 L1715.03,641.26 L1715.53,641.29 L1716.03,641.32 L1716.53,641.34 L1717.03,641.37 L1717.53,641.39 L1718.03,641.42 L1718.53,641.44 L1719.03,641.46 L1719.53,641.49 L1720.03,641.51 L1720.53,641.53 L1721.03,641.55 L1721.53,641.57 L1722.03,641.60 L1722.53,641.62 L1723.03,641.64 L1723.53,641.66 L1724.03,641.69 L1724.53,641.71 L1725.03,641.73 L1725.53,641.75 L1726.03,641.77 L1726.53,641.79 L1727.03,641.82 L1727.53,641.84 L1728.03,641.86 L1728.53,641.88 L1729.03,641.90 L1729.53,641.92 L1730.03,641.94 L1730.53,641.96 L1731.03,641.98 L1731.53,642.00 L1732.03,642.02 L1732.53,642.04 L1733.03,642.06 L1733.53,642.08 L1734.03,642.10 L1734.53,642.12 L1735.03,642.14 L1735.53,642.16 L1736.03,642.17 L1736.53,642.19 L1737.03,642.21 L1737.53,642.23 L1738.03,642.24 L1738.53,642.26 L1739.03,642.28 L1739.53,642.29 L1740.03,642.31 L1740.53,642.32 L1741.03,642.34 L1741.53,642.35 L1742.03,642.37 L1742.53,642.38 L1743.03,642.40 L1743.53,642.41 L1744.03,642.42 L1744.53,642.44 L1745.03,642.45 L1745.53,642.46 L1746.03,642.47 L1746.53,642.49 L1747.03,642.50 L1747.53,642.51 L1748.03,642.52 L1748.53,642.53 L1749.03,642.54 L1749.53,642.54 L1750.03,642.55 L1750.53,642.56 L1751.03,642.57 L1751.53,642.57 L1752.03,642.58 L1752.53,642.59 L1753.03,642.59 L1753.53,642.60 L1754.03,642.60 L1754.53,642.61 L1755.03,642.61 L1755.53,642.61 L1756.03,642.62 L1756.53,642.62 L1757.03,642.62 L1757.53,642.62 L1757.98,642.62" stroke="#333333" stroke-width="2.1" fill="none" opacity="0.95"/>
<line x1="1376" y1="348" x2="1428" y2="348" stroke="#444" stroke-width="2.2"/>
<line x1="1550" y1="348" x2="1601" y2="348" stroke="#3333ff" stroke-width="2"/>
<line x1="1376" y1="376" x2="1428" y2="376" stroke="#ff3333" stroke-width="2"/>
<text transform="translate(1434.5,356.5) scale(1,1.07)" font-family="Liberation Sans, Arial, sans-serif" font-size="22.9">White light</text>
<text transform="translate(1608.5,356.5) scale(1,1.07)" font-family="Liberation Sans, Arial, sans-serif" font-size="22.9">Blue excitation</text>
<text transform="translate(1434.5,385.3) scale(1,1.07)" font-family="Liberation Sans, Arial, sans-serif" font-size="22.9">Red imaging light</text>
<text transform="translate(1557,730.5) scale(1,1.07)" font-family="Liberation Sans, Arial, sans-serif" font-size="29.5" text-anchor="middle">Wavelength (nm)</text>
<text transform="translate(1247,503) rotate(-90) scale(1,1.07)" font-family="Liberation Sans, Arial, sans-serif" font-size="29" text-anchor="middle">Normalized intensity</text>
<text transform="translate(1285,504) rotate(-90) scale(1,1.07)" font-family="Liberation Sans, Arial, sans-serif" font-size="29" text-anchor="middle">(a. u.)</text>
<path d="M117.20,793.10 L117.20,1177.50 L518.30,1177.50" stroke="#000" stroke-width="2.2" fill="none" stroke-linecap="square"/>
<path d="M174.42,1177.50 L174.42,1188.10 M288.85,1177.50 L288.85,1188.10 M403.28,1177.50 L403.28,1188.10 M517.71,1177.50 L517.71,1188.10 M117.20,1177.50 L117.20,1182.80 M231.63,1177.50 L231.63,1182.80 M346.06,1177.50 L346.06,1182.80 M460.49,1177.50 L460.49,1182.80 M117.20,1177.10 L106.60,1177.10 M117.20,1100.30 L106.60,1100.30 M117.20,1023.50 L106.60,1023.50 M117.20,946.70 L106.60,946.70 M117.20,869.90 L106.60,869.90 M117.20,793.10 L106.60,793.10 M117.20,1138.70 L111.90,1138.70 M117.20,1061.90 L111.90,1061.90 M117.20,985.10 L111.90,985.10 M117.20,908.30 L111.90,908.30 M117.20,831.50 L111.90,831.50" stroke="#000" stroke-width="2.0" fill="none"/>
<text transform="translate(174.42,1221.40) scale(1,1.01)" font-family="Liberation Sans, Arial, sans-serif" font-size="29.5" text-anchor="middle">400</text>
<text transform="translate(288.85,1221.40) scale(1,1.01)" font-family="Liberation Sans, Arial, sans-serif" font-size="29.5" text-anchor="middle">500</text>
<text transform="translate(403.28,1221.40) scale(1,1.01)" font-family="Liberation Sans, Arial, sans-serif" font-size="29.5" text-anchor="middle">600</text>
<text transform="translate(517.71,1221.40) scale(1,1.01)" font-family="Liberation Sans, Arial, sans-serif" font-size="29.5" text-anchor="middle">700</text>
<text transform="translate(96.40,1188.70) scale(1,1.01)" font-family="Liberation Sans, Arial, sans-serif" font-size="29.5" text-anchor="end">0.0</text>
<text transform="translate(96.40,1111.90) scale(1,1.01)" font-family="Liberation Sans, Arial, sans-serif" font-size="29.5" text-anchor="end">0.2</text>
<text transform="translate(96.40,1035.10) scale(1,1.01)" font-family="Liberation Sans, Arial, sans-serif" font-size="29.5" text-anchor="end">0.4</text>
<text transform="translate(96.40,958.30) scale(1,1.01)" font-family="Liberation Sans, Arial, sans-serif" font-size="29.5" text-anchor="end">0.6</text>
<text transform="translate(96.40,881.50) scale(1,1.01)" font-family="Liberation Sans, Arial, sans-serif" font-size="29.5" text-anchor="end">0.8</text>
<text transform="translate(96.40,804.70) scale(1,1.01)" font-family="Liberation Sans, Arial, sans-serif" font-size="29.5" text-anchor="end">1.0</text>
<path d="M117.25,1117.23 C118.24,1113.57 120.90,1103.59 123.23,1095.28 C125.56,1086.96 128.55,1077.31 131.22,1067.34 C133.88,1057.36 136.54,1046.71 139.20,1035.41 C141.86,1024.10 144.85,1008.13 147.18,999.48 C149.51,990.83 151.17,988.17 153.17,983.52 C155.16,978.86 156.83,976.20 159.16,971.54 C161.48,966.89 164.94,959.90 167.14,955.58 C169.33,951.25 171.00,948.59 172.33,945.60 C173.66,942.61 173.32,943.60 175.12,937.62 C176.92,931.63 180.44,919.32 183.10,909.68 C185.76,900.03 188.43,889.39 191.09,879.74 C193.75,870.10 196.41,859.65 199.07,851.80 C201.73,843.95 204.39,837.83 207.05,832.64 C209.71,827.45 212.71,822.13 215.03,820.67 C217.36,819.21 219.03,823.20 221.02,823.86 C223.02,824.53 224.68,823.00 227.01,824.66 C229.34,826.32 231.67,828.65 234.99,833.84 C238.32,839.03 242.97,846.81 246.97,855.79 C250.96,864.77 254.95,874.42 258.94,887.72 C262.93,901.03 267.59,921.65 270.91,935.62 C274.24,949.59 276.24,957.57 278.90,971.54 C281.56,985.51 284.22,1004.14 286.88,1019.44 C289.54,1034.74 292.20,1050.71 294.86,1063.34 C297.52,1075.98 300.18,1085.96 302.84,1095.28 C305.51,1104.59 308.17,1111.91 310.83,1119.22 C313.49,1126.54 315.48,1133.19 318.81,1139.18 C322.14,1145.17 326.13,1150.49 330.78,1155.15 C335.44,1159.80 340.76,1164.13 346.75,1167.12 C352.74,1170.11 358.06,1171.64 366.71,1173.11 C375.35,1174.57 373.56,1175.37 398.64,1175.90 C423.72,1176.43 497.42,1176.23 517.18,1176.30" stroke="#000" stroke-width="2.6" fill="none"/>
<text transform="translate(312.6,1257.7) scale(1,1.01)" font-family="Liberation Sans, Arial, sans-serif" font-size="29.3" text-anchor="middle">Wavelength (nm)</text>
<text transform="translate(35.5,991) rotate(-90) scale(1,1.07)" font-family="Liberation Sans, Arial, sans-serif" font-size="29.5" text-anchor="middle">Absorbance</text>
<path d="M713.10,804.70 L713.10,1177.90 L1139.60,1177.90" stroke="#000" stroke-width="2.2" fill="none" stroke-linecap="square"/>
<path d="M732.90,1177.90 L732.90,1188.50 M825.10,1177.90 L825.10,1188.50 M917.30,1177.90 L917.30,1188.50 M1009.50,1177.90 L1009.50,1188.50 M1101.70,1177.90 L1101.70,1188.50 M779.00,1177.90 L779.00,1183.20 M871.20,1177.90 L871.20,1183.20 M963.40,1177.90 L963.40,1183.20 M1055.60,1177.90 L1055.60,1183.20 M713.10,1168.00 L702.50,1168.00 M713.10,1077.10 L702.50,1077.10 M713.10,986.20 L702.50,986.20 M713.10,895.30 L702.50,895.30 M713.10,804.40 L702.50,804.40 M713.10,1122.55 L707.80,1122.55 M713.10,1031.65 L707.80,1031.65 M713.10,940.75 L707.80,940.75 M713.10,849.85 L707.80,849.85" stroke="#000" stroke-width="2.0" fill="none"/>
<text transform="translate(732.90,1220.60) scale(1,1.01)" font-family="Liberation Sans, Arial, sans-serif" font-size="29.5" text-anchor="middle">−2</text>
<text transform="translate(825.10,1220.60) scale(1,1.01)" font-family="Liberation Sans, Arial, sans-serif" font-size="29.5" text-anchor="middle">−1</text>
<text transform="translate(917.30,1220.60) scale(1,1.01)" font-family="Liberation Sans, Arial, sans-serif" font-size="29.5" text-anchor="middle">0</text>
<text transform="translate(1009.50,1220.60) scale(1,1.01)" font-family="Liberation Sans, Arial, sans-serif" font-size="29.5" text-anchor="middle">1</text>
<text transform="translate(1101.70,1220.60) scale(1,1.01)" font-family="Liberation Sans, Arial, sans-serif" font-size="29.5" text-anchor="middle">2</text>
<text transform="translate(694.60,1179.70) scale(1,1.01)" font-family="Liberation Sans, Arial, sans-serif" font-size="29.5" text-anchor="end">0</text>
<text transform="translate(694.60,1088.80) scale(1,1.01)" font-family="Liberation Sans, Arial, sans-serif" font-size="29.5" text-anchor="end">250</text>
<text transform="translate(694.60,997.90) scale(1,1.01)" font-family="Liberation Sans, Arial, sans-serif" font-size="29.5" text-anchor="end">500</text>
<text transform="translate(694.60,907.00) scale(1,1.01)" font-family="Liberation Sans, Arial, sans-serif" font-size="29.5" text-anchor="end">750</text>
<text transform="translate(694.60,816.10) scale(1,1.01)" font-family="Liberation Sans, Arial, sans-serif" font-size="29.5" text-anchor="end">1000</text>
<path d="M737.51,1168.00 L739.35,1168.00 L741.20,1168.00 L743.04,1168.00 L744.89,1168.00 L746.73,1167.99 L748.57,1167.99 L750.42,1167.99 L752.26,1167.99 L754.11,1167.98 L755.95,1167.98 L757.79,1167.98 L759.64,1167.97 L761.48,1167.96 L763.33,1167.95 L765.17,1167.94 L767.01,1167.93 L768.86,1167.91 L770.70,1167.89 L772.55,1167.87 L774.39,1167.84 L776.23,1167.81 L778.08,1167.77 L779.92,1167.72 L781.77,1167.66 L783.61,1167.59 L785.45,1167.50 L787.30,1167.40 L789.14,1167.29 L790.99,1167.15 L792.83,1166.99 L794.67,1166.79 L796.52,1166.57 L798.36,1166.31 L800.21,1166.01 L802.05,1165.66 L803.89,1165.26 L805.74,1164.80 L807.58,1164.27 L809.43,1163.66 L811.27,1162.96 L813.11,1162.17 L814.96,1161.27 L816.80,1160.25 L818.65,1159.10 L820.49,1157.80 L822.33,1156.35 L824.18,1154.72 L826.02,1152.90 L827.87,1150.88 L829.71,1148.64 L831.55,1146.16 L833.40,1143.43 L835.24,1140.43 L837.09,1137.13 L838.93,1133.54 L840.77,1129.62 L842.62,1125.36 L844.46,1120.76 L846.31,1115.79 L848.15,1110.45 L849.99,1104.72 L851.84,1098.61 L853.68,1092.09 L855.53,1085.18 L857.37,1077.87 L859.21,1070.16 L861.06,1062.07 L862.90,1053.60 L864.75,1044.77 L866.59,1035.60 L868.43,1026.11 L870.28,1016.33 L872.12,1006.29 L873.97,996.03 L875.81,985.58 L877.65,975.00 L879.50,964.32 L881.34,953.61 L883.19,942.91 L885.03,932.27 L886.87,921.77 L888.72,911.46 L890.56,901.41 L892.41,891.66 L894.25,882.30 L896.09,873.37 L897.94,864.95 L899.78,857.08 L901.63,849.82 L903.47,843.23 L905.31,837.35 L907.16,832.22 L909.00,827.89 L910.85,824.38 L912.69,821.73 L914.53,819.95 L916.38,819.06 L918.22,819.06 L920.07,819.95 L921.91,821.73 L923.75,824.38 L925.60,827.89 L927.44,832.22 L929.29,837.35 L931.13,843.23 L932.97,849.82 L934.82,857.08 L936.66,864.95 L938.51,873.37 L940.35,882.30 L942.19,891.66 L944.04,901.41 L945.88,911.46 L947.73,921.77 L949.57,932.27 L951.41,942.91 L953.26,953.61 L955.10,964.32 L956.95,975.00 L958.79,985.58 L960.63,996.03 L962.48,1006.29 L964.32,1016.33 L966.17,1026.11 L968.01,1035.60 L969.85,1044.77 L971.70,1053.60 L973.54,1062.07 L975.39,1070.16 L977.23,1077.87 L979.07,1085.18 L980.92,1092.09 L982.76,1098.61 L984.61,1104.72 L986.45,1110.45 L988.29,1115.79 L990.14,1120.76 L991.98,1125.36 L993.83,1129.62 L995.67,1133.54 L997.51,1137.13 L999.36,1140.43 L1001.20,1143.43 L1003.05,1146.16 L1004.89,1148.64 L1006.73,1150.88 L1008.58,1152.90 L1010.42,1154.72 L1012.27,1156.35 L1014.11,1157.80 L1015.95,1159.10 L1017.80,1160.25 L1019.64,1161.27 L1021.49,1162.17 L1023.33,1162.96 L1025.17,1163.66 L1027.02,1164.27 L1028.86,1164.80 L1030.71,1165.26 L1032.55,1165.66 L1034.39,1166.01 L1036.24,1166.31 L1038.08,1166.57 L1039.93,1166.79 L1041.77,1166.99 L1043.61,1167.15 L1045.46,1167.29 L1047.30,1167.40 L1049.15,1167.50 L1050.99,1167.59 L1052.83,1167.66 L1054.68,1167.72 L1056.52,1167.77 L1058.37,1167.81 L1060.21,1167.84 L1062.05,1167.87 L1063.90,1167.89 L1065.74,1167.91 L1067.59,1167.93 L1069.43,1167.94 L1071.27,1167.95 L1073.12,1167.96 L1074.96,1167.97 L1076.81,1167.98 L1078.65,1167.98 L1080.49,1167.98 L1082.34,1167.99 L1084.18,1167.99 L1086.03,1167.99 L1087.87,1167.99 L1089.71,1168.00 L1091.56,1168.00 L1093.40,1168.00 L1095.25,1168.00 L1097.09,1168.00 L1098.93,1168.00 L1100.78,1168.00 L1102.62,1168.00 L1104.47,1168.00 L1106.31,1168.00 L1108.15,1168.00 L1110.00,1168.00 L1111.84,1168.00 L1113.69,1168.00 L1115.53,1168.00" stroke="#000" stroke-width="2.4" fill="none"/>
<circle cx="742.12" cy="1168.00" r="5.4" stroke="#000" stroke-width="2.7" fill="none"/><circle cx="760.56" cy="1168.00" r="5.4" stroke="#000" stroke-width="2.7" fill="none"/><circle cx="779.00" cy="1166.91" r="5.4" stroke="#000" stroke-width="2.7" fill="none"/><circle cx="797.44" cy="1160.00" r="5.4" stroke="#000" stroke-width="2.7" fill="none"/><circle cx="815.88" cy="1152.73" r="5.4" stroke="#000" stroke-width="2.7" fill="none"/><circle cx="834.32" cy="1123.64" r="5.4" stroke="#000" stroke-width="2.7" fill="none"/><circle cx="852.76" cy="1088.01" r="5.4" stroke="#000" stroke-width="2.7" fill="none"/><circle cx="871.20" cy="1014.56" r="5.4" stroke="#000" stroke-width="2.7" fill="none"/><circle cx="889.64" cy="914.57" r="5.4" stroke="#000" stroke-width="2.7" fill="none"/><circle cx="908.08" cy="816.40" r="5.4" stroke="#000" stroke-width="2.7" fill="none"/><circle cx="926.52" cy="830.58" r="5.4" stroke="#000" stroke-width="2.7" fill="none"/><circle cx="944.96" cy="897.12" r="5.4" stroke="#000" stroke-width="2.7" fill="none"/><circle cx="963.40" cy="1012.38" r="5.4" stroke="#000" stroke-width="2.7" fill="none"/><circle cx="981.84" cy="1090.92" r="5.4" stroke="#000" stroke-width="2.7" fill="none"/><circle cx="1000.28" cy="1128.73" r="5.4" stroke="#000" stroke-width="2.7" fill="none"/><circle cx="1018.72" cy="1149.09" r="5.4" stroke="#000" stroke-width="2.7" fill="none"/><circle cx="1037.16" cy="1162.55" r="5.4" stroke="#000" stroke-width="2.7" fill="none"/><circle cx="1055.60" cy="1167.27" r="5.4" stroke="#000" stroke-width="2.7" fill="none"/><circle cx="1074.04" cy="1167.27" r="5.4" stroke="#000" stroke-width="2.7" fill="none"/><circle cx="1092.48" cy="1168.00" r="5.4" stroke="#000" stroke-width="2.7" fill="none"/><circle cx="1110.92" cy="1168.00" r="5.4" stroke="#000" stroke-width="2.7" fill="none"/>
<text transform="translate(921.3,1257) scale(1,1.01)" font-size="29.5" text-anchor="middle"><tspan font-family="Liberation Serif, serif">Δ</tspan><tspan font-family="Liberation Serif, serif" font-style="italic">φ</tspan><tspan font-family="Liberation Sans, Arial, sans-serif"> (°)</tspan></text>
<text transform="translate(622,993.5) rotate(-90) scale(1,1.07)" font-family="Liberation Sans, Arial, sans-serif" font-size="29.5" text-anchor="middle">Counts</text>
<path d="M1320.70,805.10 L1320.70,1177.50 L1746.70,1177.50" stroke="#000" stroke-width="2.2" fill="none" stroke-linecap="square"/>
<path d="M1320.90,1177.50 L1320.90,1188.10 M1427.45,1177.50 L1427.45,1188.10 M1534.00,1177.50 L1534.00,1188.10 M1640.55,1177.50 L1640.55,1188.10 M1747.10,1177.50 L1747.10,1188.10 M1374.17,1177.50 L1374.17,1182.80 M1480.72,1177.50 L1480.72,1182.80 M1587.28,1177.50 L1587.28,1182.80 M1693.83,1177.50 L1693.83,1182.80 M1320.70,1167.90 L1310.10,1167.90 M1320.70,1077.18 L1310.10,1077.18 M1320.70,986.45 L1310.10,986.45 M1320.70,895.73 L1310.10,895.73 M1320.70,805.00 L1310.10,805.00 M1320.70,1122.54 L1315.40,1122.54 M1320.70,1031.81 L1315.40,1031.81 M1320.70,941.09 L1315.40,941.09 M1320.70,850.36 L1315.40,850.36" stroke="#000" stroke-width="2.0" fill="none"/>
<text transform="translate(1320.90,1221.20) scale(1,1.01)" font-family="Liberation Sans, Arial, sans-serif" font-size="29.5" text-anchor="middle">−0.10</text>
<text transform="translate(1427.45,1221.20) scale(1,1.01)" font-family="Liberation Sans, Arial, sans-serif" font-size="29.5" text-anchor="middle">−0.05</text>
<text transform="translate(1534.00,1221.20) scale(1,1.01)" font-family="Liberation Sans, Arial, sans-serif" font-size="29.5" text-anchor="middle">0.00</text>
<text transform="translate(1640.55,1221.20) scale(1,1.01)" font-family="Liberation Sans, Arial, sans-serif" font-size="29.5" text-anchor="middle">0.05</text>
<text transform="translate(1747.10,1221.20) scale(1,1.01)" font-family="Liberation Sans, Arial, sans-serif" font-size="29.5" text-anchor="middle">0.10</text>
<text transform="translate(1298.40,1179.60) scale(1,1.01)" font-family="Liberation Sans, Arial, sans-serif" font-size="29.5" text-anchor="end">0</text>
<text transform="translate(1298.40,1088.88) scale(1,1.01)" font-family="Liberation Sans, Arial, sans-serif" font-size="29.5" text-anchor="end">500</text>
<text transform="translate(1298.40,998.15) scale(1,1.01)" font-family="Liberation Sans, Arial, sans-serif" font-size="29.5" text-anchor="end">1000</text>
<text transform="translate(1298.40,907.43) scale(1,1.01)" font-family="Liberation Sans, Arial, sans-serif" font-size="29.5" text-anchor="end">1500</text>
<text transform="translate(1298.40,816.70) scale(1,1.01)" font-family="Liberation Sans, Arial, sans-serif" font-size="29.5" text-anchor="end">2000</text>
<path d="M1352.87,1167.90 L1353.93,1167.90 L1355.00,1167.90 L1356.06,1167.90 L1357.13,1167.90 L1358.19,1167.90 L1359.26,1167.90 L1360.32,1167.90 L1361.39,1167.90 L1362.45,1167.90 L1363.52,1167.90 L1364.59,1167.90 L1365.65,1167.90 L1366.72,1167.90 L1367.78,1167.90 L1368.85,1167.90 L1369.91,1167.90 L1370.98,1167.90 L1372.04,1167.90 L1373.11,1167.90 L1374.17,1167.90 L1375.24,1167.90 L1376.31,1167.90 L1377.37,1167.90 L1378.44,1167.90 L1379.50,1167.90 L1380.57,1167.90 L1381.63,1167.90 L1382.70,1167.90 L1383.76,1167.90 L1384.83,1167.90 L1385.90,1167.90 L1386.96,1167.90 L1388.03,1167.90 L1389.09,1167.90 L1390.16,1167.90 L1391.22,1167.90 L1392.29,1167.90 L1393.35,1167.90 L1394.42,1167.90 L1395.48,1167.90 L1396.55,1167.90 L1397.62,1167.90 L1398.68,1167.90 L1399.75,1167.90 L1400.81,1167.90 L1401.88,1167.90 L1402.94,1167.90 L1404.01,1167.90 L1405.07,1167.90 L1406.14,1167.90 L1407.21,1167.90 L1408.27,1167.90 L1409.34,1167.90 L1410.40,1167.90 L1411.47,1167.90 L1412.53,1167.90 L1413.60,1167.90 L1414.66,1167.90 L1415.73,1167.90 L1416.80,1167.90 L1417.86,1167.90 L1418.93,1167.90 L1419.99,1167.90 L1421.06,1167.90 L1422.12,1167.90 L1423.19,1167.90 L1424.25,1167.89 L1425.32,1167.89 L1426.38,1167.89 L1427.45,1167.89 L1428.52,1167.89 L1429.58,1167.88 L1430.65,1167.88 L1431.71,1167.88 L1432.78,1167.87 L1433.84,1167.86 L1434.91,1167.86 L1435.97,1167.85 L1437.04,1167.84 L1438.11,1167.82 L1439.17,1167.81 L1440.24,1167.79 L1441.30,1167.77 L1442.37,1167.74 L1443.43,1167.71 L1444.50,1167.67 L1445.56,1167.63 L1446.63,1167.58 L1447.69,1167.52 L1448.76,1167.46 L1449.83,1167.38 L1450.89,1167.29 L1451.96,1167.18 L1453.02,1167.06 L1454.09,1166.92 L1455.15,1166.75 L1456.22,1166.57 L1457.28,1166.35 L1458.35,1166.11 L1459.41,1165.83 L1460.48,1165.52 L1461.55,1165.16 L1462.61,1164.75 L1463.68,1164.29 L1464.74,1163.77 L1465.81,1163.18 L1466.87,1162.53 L1467.94,1161.79 L1469.00,1160.97 L1470.07,1160.05 L1471.14,1159.04 L1472.20,1157.91 L1473.27,1156.66 L1474.33,1155.27 L1475.40,1153.75 L1476.46,1152.08 L1477.53,1150.24 L1478.59,1148.24 L1479.66,1146.04 L1480.72,1143.66 L1481.79,1141.07 L1482.86,1138.26 L1483.92,1135.23 L1484.99,1131.96 L1486.05,1128.44 L1487.12,1124.67 L1488.18,1120.64 L1489.25,1116.33 L1490.31,1111.75 L1491.38,1106.89 L1492.45,1101.74 L1493.51,1096.30 L1494.58,1090.58 L1495.64,1084.57 L1496.71,1078.27 L1497.77,1071.70 L1498.84,1064.86 L1499.90,1057.76 L1500.97,1050.40 L1502.04,1042.82 L1503.10,1035.02 L1504.17,1027.02 L1505.23,1018.84 L1506.30,1010.52 L1507.36,1002.06 L1508.43,993.52 L1509.49,984.91 L1510.56,976.26 L1511.62,967.62 L1512.69,959.02 L1513.76,950.50 L1514.82,942.09 L1515.89,933.84 L1516.95,925.78 L1518.02,917.96 L1519.08,910.41 L1520.15,903.18 L1521.21,896.31 L1522.28,889.82 L1523.35,883.77 L1524.41,878.18 L1525.48,873.08 L1526.54,868.51 L1527.61,864.50 L1528.67,861.05 L1529.74,858.21 L1530.80,855.98 L1531.87,854.37 L1532.93,853.41 L1534.00,853.08 L1535.07,853.41 L1536.13,854.37 L1537.20,855.98 L1538.26,858.21 L1539.33,861.05 L1540.39,864.50 L1541.46,868.51 L1542.52,873.08 L1543.59,878.18 L1544.65,883.77 L1545.72,889.82 L1546.79,896.31 L1547.85,903.18 L1548.92,910.41 L1549.98,917.96 L1551.05,925.78 L1552.11,933.84 L1553.18,942.09 L1554.24,950.50 L1555.31,959.02 L1556.38,967.62 L1557.44,976.26 L1558.51,984.91 L1559.57,993.52 L1560.64,1002.06 L1561.70,1010.52 L1562.77,1018.84 L1563.83,1027.02 L1564.90,1035.02 L1565.96,1042.82 L1567.03,1050.40 L1568.10,1057.76 L1569.16,1064.86 L1570.23,1071.70 L1571.29,1078.27 L1572.36,1084.57 L1573.42,1090.58 L1574.49,1096.30 L1575.55,1101.74 L1576.62,1106.89 L1577.69,1111.75 L1578.75,1116.33 L1579.82,1120.64 L1580.88,1124.67 L1581.95,1128.44 L1583.01,1131.96 L1584.08,1135.23 L1585.14,1138.26 L1586.21,1141.07 L1587.28,1143.66 L1588.34,1146.04 L1589.41,1148.24 L1590.47,1150.24 L1591.54,1152.08 L1592.60,1153.75 L1593.67,1155.27 L1594.73,1156.66 L1595.80,1157.91 L1596.86,1159.04 L1597.93,1160.05 L1599.00,1160.97 L1600.06,1161.79 L1601.13,1162.53 L1602.19,1163.18 L1603.26,1163.77 L1604.32,1164.29 L1605.39,1164.75 L1606.45,1165.16 L1607.52,1165.52 L1608.59,1165.83 L1609.65,1166.11 L1610.72,1166.35 L1611.78,1166.57 L1612.85,1166.75 L1613.91,1166.92 L1614.98,1167.06 L1616.04,1167.18 L1617.11,1167.29 L1618.17,1167.38 L1619.24,1167.46 L1620.31,1167.52 L1621.37,1167.58 L1622.44,1167.63 L1623.50,1167.67 L1624.57,1167.71 L1625.63,1167.74 L1626.70,1167.77 L1627.76,1167.79 L1628.83,1167.81 L1629.89,1167.82 L1630.96,1167.84 L1632.03,1167.85 L1633.09,1167.86 L1634.16,1167.86 L1635.22,1167.87 L1636.29,1167.88 L1637.35,1167.88 L1638.42,1167.88 L1639.48,1167.89 L1640.55,1167.89 L1641.62,1167.89 L1642.68,1167.89 L1643.75,1167.89 L1644.81,1167.90 L1645.88,1167.90 L1646.94,1167.90 L1648.01,1167.90 L1649.07,1167.90 L1650.14,1167.90 L1651.20,1167.90 L1652.27,1167.90 L1653.34,1167.90 L1654.40,1167.90 L1655.47,1167.90 L1656.53,1167.90 L1657.60,1167.90 L1658.66,1167.90 L1659.73,1167.90 L1660.79,1167.90 L1661.86,1167.90 L1662.93,1167.90 L1663.99,1167.90 L1665.06,1167.90 L1666.12,1167.90 L1667.19,1167.90 L1668.25,1167.90 L1669.32,1167.90 L1670.38,1167.90 L1671.45,1167.90 L1672.51,1167.90 L1673.58,1167.90 L1674.65,1167.90 L1675.71,1167.90 L1676.78,1167.90 L1677.84,1167.90 L1678.91,1167.90 L1679.97,1167.90 L1681.04,1167.90 L1682.10,1167.90 L1683.17,1167.90 L1684.24,1167.90 L1685.30,1167.90 L1686.37,1167.90 L1687.43,1167.90 L1688.50,1167.90 L1689.56,1167.90 L1690.63,1167.90 L1691.69,1167.90 L1692.76,1167.90 L1693.83,1167.90" stroke="#ff0000" stroke-width="2.4" fill="none"/>
<circle cx="1352.87" cy="1167.90" r="4.7" stroke="#ff0000" stroke-width="2.4" fill="none"/><circle cx="1374.17" cy="1167.90" r="4.7" stroke="#ff0000" stroke-width="2.4" fill="none"/><circle cx="1395.48" cy="1167.90" r="4.7" stroke="#ff0000" stroke-width="2.4" fill="none"/><circle cx="1416.80" cy="1167.90" r="4.7" stroke="#ff0000" stroke-width="2.4" fill="none"/><circle cx="1438.11" cy="1166.09" r="4.7" stroke="#ff0000" stroke-width="2.4" fill="none"/><circle cx="1459.41" cy="1159.37" r="4.7" stroke="#ff0000" stroke-width="2.4" fill="none"/><circle cx="1480.72" cy="1131.25" r="4.7" stroke="#ff0000" stroke-width="2.4" fill="none"/><circle cx="1502.04" cy="1066.11" r="4.7" stroke="#ff0000" stroke-width="2.4" fill="none"/><circle cx="1523.35" cy="891.01" r="4.7" stroke="#ff0000" stroke-width="2.4" fill="none"/><circle cx="1544.65" cy="873.77" r="4.7" stroke="#ff0000" stroke-width="2.4" fill="none"/><circle cx="1565.96" cy="1045.78" r="4.7" stroke="#ff0000" stroke-width="2.4" fill="none"/><circle cx="1587.28" cy="1127.98" r="4.7" stroke="#ff0000" stroke-width="2.4" fill="none"/><circle cx="1608.59" cy="1157.92" r="4.7" stroke="#ff0000" stroke-width="2.4" fill="none"/><circle cx="1629.89" cy="1166.09" r="4.7" stroke="#ff0000" stroke-width="2.4" fill="none"/><circle cx="1651.20" cy="1167.54" r="4.7" stroke="#ff0000" stroke-width="2.4" fill="none"/><circle cx="1672.51" cy="1167.90" r="4.7" stroke="#ff0000" stroke-width="2.4" fill="none"/><circle cx="1693.83" cy="1167.90" r="4.7" stroke="#ff0000" stroke-width="2.4" fill="none"/>
<path d="M1374.17,1167.90 L1375.24,1167.90 L1376.31,1167.90 L1377.37,1167.90 L1378.44,1167.90 L1379.50,1167.90 L1380.57,1167.90 L1381.63,1167.90 L1382.70,1167.90 L1383.76,1167.90 L1384.83,1167.90 L1385.90,1167.90 L1386.96,1167.90 L1388.03,1167.90 L1389.09,1167.90 L1390.16,1167.90 L1391.22,1167.90 L1392.29,1167.90 L1393.35,1167.90 L1394.42,1167.90 L1395.48,1167.90 L1396.55,1167.90 L1397.62,1167.90 L1398.68,1167.90 L1399.75,1167.89 L1400.81,1167.89 L1401.88,1167.89 L1402.94,1167.89 L1404.01,1167.89 L1405.07,1167.89 L1406.14,1167.89 L1407.21,1167.88 L1408.27,1167.88 L1409.34,1167.88 L1410.40,1167.87 L1411.47,1167.87 L1412.53,1167.86 L1413.60,1167.86 L1414.66,1167.85 L1415.73,1167.84 L1416.80,1167.83 L1417.86,1167.82 L1418.93,1167.81 L1419.99,1167.80 L1421.06,1167.78 L1422.12,1167.76 L1423.19,1167.74 L1424.25,1167.72 L1425.32,1167.69 L1426.38,1167.66 L1427.45,1167.62 L1428.52,1167.58 L1429.58,1167.54 L1430.65,1167.49 L1431.71,1167.43 L1432.78,1167.36 L1433.84,1167.29 L1434.91,1167.21 L1435.97,1167.12 L1437.04,1167.01 L1438.11,1166.90 L1439.17,1166.77 L1440.24,1166.62 L1441.30,1166.46 L1442.37,1166.28 L1443.43,1166.08 L1444.50,1165.86 L1445.56,1165.61 L1446.63,1165.34 L1447.69,1165.04 L1448.76,1164.71 L1449.83,1164.34 L1450.89,1163.94 L1451.96,1163.50 L1453.02,1163.02 L1454.09,1162.49 L1455.15,1161.92 L1456.22,1161.29 L1457.28,1160.60 L1458.35,1159.86 L1459.41,1159.05 L1460.48,1158.17 L1461.55,1157.22 L1462.61,1156.20 L1463.68,1155.09 L1464.74,1153.90 L1465.81,1152.61 L1466.87,1151.24 L1467.94,1149.76 L1469.00,1148.18 L1470.07,1146.49 L1471.14,1144.68 L1472.20,1142.76 L1473.27,1140.71 L1474.33,1138.54 L1475.40,1136.24 L1476.46,1133.81 L1477.53,1131.24 L1478.59,1128.52 L1479.66,1125.67 L1480.72,1122.67 L1481.79,1119.52 L1482.86,1116.22 L1483.92,1112.77 L1484.99,1109.17 L1486.05,1105.42 L1487.12,1101.53 L1488.18,1097.48 L1489.25,1093.29 L1490.31,1088.96 L1491.38,1084.50 L1492.45,1079.89 L1493.51,1075.16 L1494.58,1070.31 L1495.64,1065.35 L1496.71,1060.28 L1497.77,1055.11 L1498.84,1049.85 L1499.90,1044.52 L1500.97,1039.12 L1502.04,1033.67 L1503.10,1028.17 L1504.17,1022.65 L1505.23,1017.12 L1506.30,1011.59 L1507.36,1006.07 L1508.43,1000.59 L1509.49,995.16 L1510.56,989.80 L1511.62,984.51 L1512.69,979.33 L1513.76,974.26 L1514.82,969.33 L1515.89,964.55 L1516.95,959.94 L1518.02,955.51 L1519.08,951.28 L1520.15,947.26 L1521.21,943.48 L1522.28,939.95 L1523.35,936.67 L1524.41,933.66 L1525.48,930.94 L1526.54,928.51 L1527.61,926.39 L1528.67,924.57 L1529.74,923.08 L1530.80,921.91 L1531.87,921.07 L1532.93,920.57 L1534.00,920.40 L1535.07,920.57 L1536.13,921.07 L1537.20,921.91 L1538.26,923.08 L1539.33,924.57 L1540.39,926.39 L1541.46,928.51 L1542.52,930.94 L1543.59,933.66 L1544.65,936.67 L1545.72,939.95 L1546.79,943.48 L1547.85,947.26 L1548.92,951.28 L1549.98,955.51 L1551.05,959.94 L1552.11,964.55 L1553.18,969.33 L1554.24,974.26 L1555.31,979.33 L1556.38,984.51 L1557.44,989.80 L1558.51,995.16 L1559.57,1000.59 L1560.64,1006.07 L1561.70,1011.59 L1562.77,1017.12 L1563.83,1022.65 L1564.90,1028.17 L1565.96,1033.67 L1567.03,1039.12 L1568.10,1044.52 L1569.16,1049.85 L1570.23,1055.11 L1571.29,1060.28 L1572.36,1065.35 L1573.42,1070.31 L1574.49,1075.16 L1575.55,1079.89 L1576.62,1084.50 L1577.69,1088.96 L1578.75,1093.29 L1579.82,1097.48 L1580.88,1101.53 L1581.95,1105.42 L1583.01,1109.17 L1584.08,1112.77 L1585.14,1116.22 L1586.21,1119.52 L1587.28,1122.67 L1588.34,1125.67 L1589.41,1128.52 L1590.47,1131.24 L1591.54,1133.81 L1592.60,1136.24 L1593.67,1138.54 L1594.73,1140.71 L1595.80,1142.76 L1596.86,1144.68 L1597.93,1146.49 L1599.00,1148.18 L1600.06,1149.76 L1601.13,1151.24 L1602.19,1152.61 L1603.26,1153.90 L1604.32,1155.09 L1605.39,1156.20 L1606.45,1157.22 L1607.52,1158.17 L1608.59,1159.05 L1609.65,1159.86 L1610.72,1160.60 L1611.78,1161.29 L1612.85,1161.92 L1613.91,1162.49 L1614.98,1163.02 L1616.04,1163.50 L1617.11,1163.94 L1618.17,1164.34 L1619.24,1164.71 L1620.31,1165.04 L1621.37,1165.34 L1622.44,1165.61 L1623.50,1165.86 L1624.57,1166.08 L1625.63,1166.28 L1626.70,1166.46 L1627.76,1166.62 L1628.83,1166.77 L1629.89,1166.90 L1630.96,1167.01 L1632.03,1167.12 L1633.09,1167.21 L1634.16,1167.29 L1635.22,1167.36 L1636.29,1167.43 L1637.35,1167.49 L1638.42,1167.54 L1639.48,1167.58 L1640.55,1167.62 L1641.62,1167.66 L1642.68,1167.69 L1643.75,1167.72 L1644.81,1167.74 L1645.88,1167.76 L1646.94,1167.78 L1648.01,1167.80 L1649.07,1167.81 L1650.14,1167.82 L1651.20,1167.83 L1652.27,1167.84 L1653.34,1167.85 L1654.40,1167.86 L1655.47,1167.86 L1656.53,1167.87 L1657.60,1167.87 L1658.66,1167.88 L1659.73,1167.88 L1660.79,1167.88 L1661.86,1167.89 L1662.93,1167.89 L1663.99,1167.89 L1665.06,1167.89 L1666.12,1167.89 L1667.19,1167.89 L1668.25,1167.89 L1669.32,1167.90 L1670.38,1167.90 L1671.45,1167.90 L1672.52,1167.90" stroke="#0000ff" stroke-width="2.4" fill="none"/>
<circle cx="1374.17" cy="1167.90" r="4.7" stroke="#0000ff" stroke-width="2.4" fill="none"/><circle cx="1395.48" cy="1167.90" r="4.7" stroke="#0000ff" stroke-width="2.4" fill="none"/><circle cx="1416.80" cy="1166.99" r="4.7" stroke="#0000ff" stroke-width="2.4" fill="none"/><circle cx="1438.11" cy="1163.36" r="4.7" stroke="#0000ff" stroke-width="2.4" fill="none"/><circle cx="1459.41" cy="1149.03" r="4.7" stroke="#0000ff" stroke-width="2.4" fill="none"/><circle cx="1480.72" cy="1110.38" r="4.7" stroke="#0000ff" stroke-width="2.4" fill="none"/><circle cx="1502.04" cy="1041.07" r="4.7" stroke="#0000ff" stroke-width="2.4" fill="none"/><circle cx="1523.35" cy="938.37" r="4.7" stroke="#0000ff" stroke-width="2.4" fill="none"/><circle cx="1544.65" cy="925.12" r="4.7" stroke="#0000ff" stroke-width="2.4" fill="none"/><circle cx="1565.96" cy="1031.45" r="4.7" stroke="#0000ff" stroke-width="2.4" fill="none"/><circle cx="1587.28" cy="1115.28" r="4.7" stroke="#0000ff" stroke-width="2.4" fill="none"/><circle cx="1608.59" cy="1147.94" r="4.7" stroke="#0000ff" stroke-width="2.4" fill="none"/><circle cx="1629.89" cy="1162.46" r="4.7" stroke="#0000ff" stroke-width="2.4" fill="none"/><circle cx="1651.20" cy="1166.99" r="4.7" stroke="#0000ff" stroke-width="2.4" fill="none"/><circle cx="1672.52" cy="1167.90" r="4.7" stroke="#0000ff" stroke-width="2.4" fill="none"/>
<rect x="1577" y="796.7" width="196.4" height="71.9" fill="#fff" stroke="#333" stroke-width="1.2"/>
<path d="M1580,813.4 L1600.5,813.4 M1613.5,813.4 L1634,813.4" stroke="#ff0000" stroke-width="2.4" stroke-linecap="round"/>
<circle cx="1607.00" cy="813.40" r="4.7" stroke="#ff0000" stroke-width="2.4" fill="none"/>
<path d="M1580,847.9 L1600.5,847.9 M1613.5,847.9 L1634,847.9" stroke="#0000ff" stroke-width="2.4" stroke-linecap="round"/>
<circle cx="1607.00" cy="847.90" r="4.7" stroke="#0000ff" stroke-width="2.4" fill="none"/>
<text transform="translate(1639,821.5) scale(1,1.01)" font-family="Liberation Sans, Arial, sans-serif" font-size="22.9">Normal to <tspan font-weight="bold">n</tspan><tspan font-size="14" dy="4">0</tspan></text>
<text transform="translate(1639,857) scale(1,1.01)" font-family="Liberation Sans, Arial, sans-serif" font-size="22.9">Along <tspan font-weight="bold">n</tspan><tspan font-size="14" dy="4">0</tspan></text>
<text transform="translate(1541,1256.5) scale(1,1.01)" font-family="Liberation Sans, Arial, sans-serif" font-size="29.3" text-anchor="middle">Displacement (μm)</text>
<text transform="translate(1217,986) rotate(-90) scale(1,1.07)" font-family="Liberation Sans, Arial, sans-serif" font-size="29.5" text-anchor="middle">Counts</text>
<text transform="translate(-1.6,30.9) scale(1.03,1)" x="0" y="0" font-family="Liberation Sans, Arial, sans-serif" font-weight="bold" font-size="41">a</text>
<text transform="translate(592.6,30.9) scale(1.03,1)" x="0" y="0" font-family="Liberation Sans, Arial, sans-serif" font-weight="bold" font-size="41">b</text>
<text transform="translate(935.7,30.9) scale(1.03,1)" x="0" y="0" font-family="Liberation Sans, Arial, sans-serif" font-weight="bold" font-size="41">c</text>
<text transform="translate(1288.2,30.9) scale(1.03,1)" x="0" y="0" font-family="Liberation Sans, Arial, sans-serif" font-weight="bold" font-size="41">d</text>
<text transform="translate(1612.9,30.9) scale(1.03,1)" x="0" y="0" font-family="Liberation Sans, Arial, sans-serif" font-weight="bold" font-size="41">e</text>
<text transform="translate(883.8,337.6) scale(1.03,1)" x="0" y="0" font-family="Liberation Sans, Arial, sans-serif" font-weight="bold" font-size="41">f</text>
<text transform="translate(1222.0,337.6) scale(1.03,1)" x="0" y="0" font-family="Liberation Sans, Arial, sans-serif" font-weight="bold" font-size="41">g</text>
<text transform="translate(-0.6,802.6) scale(1.03,1)" x="0" y="0" font-family="Liberation Sans, Arial, sans-serif" font-weight="bold" font-size="41">h</text>
<text transform="translate(596.1,800.6) scale(1.03,1)" x="0" y="0" font-family="Liberation Sans, Arial, sans-serif" font-weight="bold" font-size="41">i</text>
<text transform="translate(1192.2,804.2) scale(1.03,1)" x="0" y="0" font-family="Liberation Sans, Arial, sans-serif" font-weight="bold" font-size="41">j</text>
</svg>
</body></html>
